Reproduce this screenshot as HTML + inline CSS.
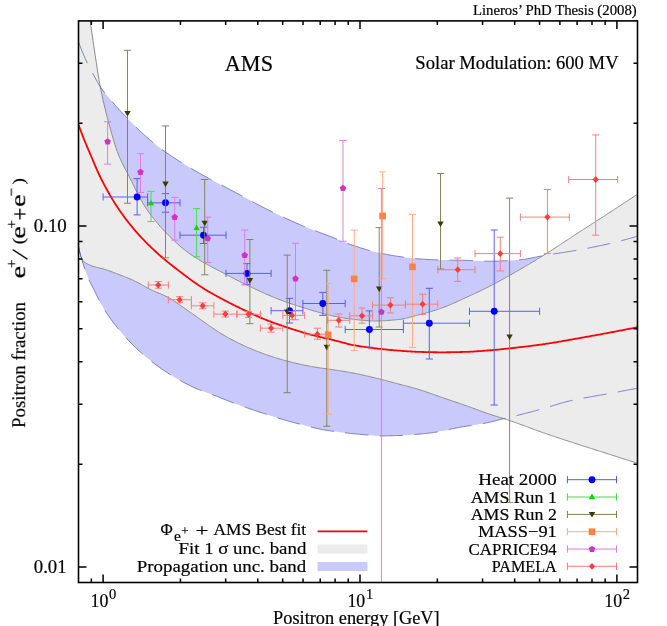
<!DOCTYPE html>
<html><head><meta charset="utf-8"><title>AMS positron fraction</title>
<style>
html,body{margin:0;padding:0;background:#fff;}
body{width:667px;height:626px;overflow:hidden;position:relative;font-family:"Liberation Serif",serif;}
</style></head><body>
<svg width="667" height="626" viewBox="0 0 667 626" style="position:absolute;left:0;top:0">
<defs><clipPath id="pc"><rect x="78.5" y="20.9" width="559.0" height="561.6"/></clipPath></defs>
<rect width="667" height="626" fill="#fff"/>
<g clip-path="url(#pc)">
<path d="M78.50 41.80 L79.62 44.83 L80.74 47.76 L81.86 50.60 L82.98 53.35 L84.10 56.00 L85.22 58.55 L86.34 61.02 L87.46 63.38 L88.58 65.61 L89.70 67.74 L90.82 69.81 L91.94 71.86 L93.06 73.93 L94.18 76.04 L95.30 78.14 L96.42 80.22 L97.54 82.24 L98.66 84.16 L99.78 85.97 L100.90 87.64 L102.03 89.23 L103.15 90.75 L104.27 92.22 L105.39 93.64 L106.51 95.01 L107.63 96.36 L108.75 97.69 L109.87 99.00 L110.99 100.31 L112.11 101.63 L113.23 102.94 L114.35 104.23 L115.47 105.51 L116.59 106.78 L117.71 108.03 L118.83 109.26 L119.95 110.49 L121.07 111.70 L122.19 112.90 L123.31 114.09 L124.43 115.27 L125.55 116.44 L126.67 117.60 L127.79 118.75 L128.91 119.91 L130.03 121.05 L131.15 122.19 L132.27 123.33 L133.39 124.46 L134.51 125.58 L135.63 126.69 L136.75 127.80 L137.87 128.89 L138.99 129.97 L140.11 131.05 L141.23 132.11 L142.35 133.16 L143.47 134.20 L144.59 135.22 L145.71 136.23 L146.83 137.22 L147.95 138.20 L149.08 139.17 L150.20 140.12 L151.32 141.06 L152.44 141.99 L153.56 142.91 L154.68 143.82 L155.80 144.71 L156.92 145.60 L158.04 146.47 L159.16 147.34 L160.28 148.19 L161.40 149.03 L162.52 149.86 L163.64 150.67 L164.76 151.48 L165.88 152.27 L167.00 153.06 L168.12 153.83 L169.24 154.60 L170.36 155.36 L171.48 156.11 L172.60 156.86 L173.72 157.59 L174.84 158.33 L175.96 159.05 L177.08 159.77 L178.20 160.48 L179.32 161.19 L180.44 161.89 L181.56 162.59 L182.68 163.28 L183.80 163.96 L184.92 164.65 L186.04 165.32 L187.16 166.00 L188.28 166.67 L189.40 167.33 L190.52 167.99 L191.64 168.65 L192.76 169.31 L193.88 169.96 L195.01 170.62 L196.13 171.27 L197.25 171.91 L198.37 172.56 L199.49 173.20 L200.61 173.85 L201.73 174.48 L202.85 175.12 L203.97 175.74 L205.09 176.37 L206.21 176.98 L207.33 177.60 L208.45 178.20 L209.57 178.81 L210.69 179.41 L211.81 180.01 L212.93 180.61 L214.05 181.20 L215.17 181.79 L216.29 182.38 L217.41 182.97 L218.53 183.55 L219.65 184.14 L220.77 184.72 L221.89 185.31 L223.01 185.89 L224.13 186.47 L225.25 187.06 L226.37 187.64 L227.49 188.23 L228.61 188.82 L229.73 189.40 L230.85 189.99 L231.97 190.59 L233.09 191.18 L234.21 191.78 L235.33 192.38 L236.45 192.98 L237.57 193.59 L238.69 194.19 L239.81 194.80 L240.93 195.41 L242.06 196.02 L243.18 196.63 L244.30 197.24 L245.42 197.85 L246.54 198.46 L247.66 199.07 L248.78 199.68 L249.90 200.29 L251.02 200.89 L252.14 201.50 L253.26 202.10 L254.38 202.70 L255.50 203.30 L256.62 203.90 L257.74 204.49 L258.86 205.08 L259.98 205.67 L261.10 206.25 L262.22 206.83 L263.34 207.40 L264.46 207.97 L265.58 208.54 L266.70 209.10 L267.82 209.66 L268.94 210.21 L270.06 210.77 L271.18 211.32 L272.30 211.87 L273.42 212.41 L274.54 212.96 L275.66 213.50 L276.78 214.04 L277.90 214.58 L279.02 215.12 L280.14 215.65 L281.26 216.19 L282.38 216.72 L283.50 217.24 L284.62 217.77 L285.74 218.29 L286.86 218.81 L287.98 219.32 L289.11 219.83 L290.23 220.34 L291.35 220.85 L292.47 221.35 L293.59 221.85 L294.71 222.35 L295.83 222.84 L296.95 223.33 L298.07 223.82 L299.19 224.30 L300.31 224.78 L301.43 225.25 L302.55 225.72 L303.67 226.18 L304.79 226.64 L305.91 227.10 L307.03 227.55 L308.15 228.00 L309.27 228.44 L310.39 228.89 L311.51 229.33 L312.63 229.76 L313.75 230.20 L314.87 230.63 L315.99 231.06 L317.11 231.48 L318.23 231.91 L319.35 232.34 L320.47 232.76 L321.59 233.18 L322.71 233.61 L323.83 234.03 L324.95 234.46 L326.07 234.88 L327.19 235.30 L328.31 235.73 L329.43 236.16 L330.55 236.58 L331.67 237.01 L332.79 237.44 L333.91 237.88 L335.04 238.31 L336.16 238.75 L337.28 239.20 L338.40 239.65 L339.52 240.11 L340.64 240.56 L341.76 241.02 L342.88 241.47 L344.00 241.93 L345.12 242.37 L346.24 242.82 L347.36 243.25 L348.48 243.68 L349.60 244.10 L350.72 244.51 L351.84 244.91 L352.96 245.29 L354.08 245.67 L355.20 246.05 L356.32 246.42 L357.44 246.79 L358.56 247.16 L359.68 247.52 L360.80 247.88 L361.92 248.24 L363.04 248.58 L364.16 248.93 L365.28 249.26 L366.40 249.59 L367.52 249.92 L368.64 250.23 L369.76 250.54 L370.88 250.84 L372.00 251.13 L373.12 251.42 L374.24 251.69 L375.36 251.96 L376.48 252.22 L377.60 252.48 L378.72 252.73 L379.84 252.98 L380.96 253.22 L382.09 253.46 L383.21 253.70 L384.33 253.93 L385.45 254.16 L386.57 254.38 L387.69 254.59 L388.81 254.81 L389.93 255.01 L391.05 255.21 L392.17 255.41 L393.29 255.60 L394.41 255.78 L395.53 255.96 L396.65 256.13 L397.77 256.30 L398.89 256.47 L400.01 256.63 L401.13 256.79 L402.25 256.95 L403.37 257.11 L404.49 257.27 L405.61 257.42 L406.73 257.57 L407.85 257.72 L408.97 257.86 L410.09 257.99 L411.21 258.12 L412.33 258.25 L413.45 258.37 L414.57 258.48 L415.69 258.59 L416.81 258.69 L417.93 258.78 L419.05 258.87 L420.17 258.95 L421.29 259.02 L422.41 259.10 L423.53 259.17 L424.65 259.24 L425.77 259.31 L426.89 259.38 L428.02 259.45 L429.14 259.51 L430.26 259.57 L431.38 259.62 L432.50 259.68 L433.62 259.73 L434.74 259.78 L435.86 259.82 L436.98 259.86 L438.10 259.90 L439.22 259.94 L440.34 259.97 L441.46 259.99 L442.58 260.02 L443.70 260.04 L444.82 260.05 L445.94 260.07 L447.06 260.09 L448.18 260.10 L449.30 260.11 L450.42 260.12 L451.54 260.14 L452.66 260.15 L453.78 260.16 L454.90 260.17 L456.02 260.18 L457.14 260.19 L458.26 260.20 L459.38 260.21 L460.50 260.23 L461.62 260.24 L462.74 260.26 L463.86 260.28 L464.98 260.30 L466.10 260.32 L467.22 260.36 L468.34 260.40 L469.46 260.44 L470.58 260.49 L471.70 260.54 L472.82 260.60 L473.94 260.65 L475.07 260.71 L476.19 260.77 L477.31 260.83 L478.43 260.89 L479.55 260.94 L480.67 260.99 L481.79 261.04 L482.91 261.08 L484.03 261.12 L485.15 261.15 L486.27 261.18 L487.39 261.19 L488.51 261.20 L489.63 261.20 L490.75 261.19 L491.87 261.18 L492.99 261.17 L494.11 261.15 L495.23 261.12 L496.35 261.09 L497.47 261.06 L498.59 261.02 L499.71 260.98 L500.83 260.94 L501.95 260.89 L503.07 260.84 L504.19 260.79 L505.31 260.74 L506.43 260.68 L507.55 260.62 L508.67 260.55 L509.79 260.49 L510.91 260.42 L512.03 260.35 L513.15 260.28 L514.27 260.21 L515.39 260.14 L516.51 260.07 L517.63 259.99 L518.75 259.90 L519.87 259.80 L520.99 259.68 L522.12 259.55 L523.24 259.40 L524.36 259.24 L525.48 259.06 L526.60 258.88 L527.72 258.68 L528.84 258.48 L529.96 258.27 L531.08 258.06 L532.20 257.84 L533.32 257.61 L534.44 257.39 L535.56 257.16 L536.68 256.93 L537.80 256.70 L538.92 256.47 L540.04 256.25 L541.16 256.03 L542.28 255.81 L543.40 255.60 L544.52 255.40 L545.64 255.21 L546.76 255.02 L547.88 254.84 L549.00 254.67 L550.12 254.49 L551.24 254.31 L552.36 254.14 L553.48 253.97 L554.60 253.80 L555.72 253.63 L556.84 253.46 L557.96 253.29 L559.08 253.12 L560.20 252.95 L561.32 252.78 L562.44 252.61 L563.56 252.44 L564.68 252.27 L565.80 252.09 L566.92 251.91 L568.05 251.73 L569.17 251.55 L570.29 251.37 L571.41 251.18 L572.53 250.99 L573.65 250.79 L574.77 250.59 L575.89 250.40 L577.01 250.20 L578.13 249.99 L579.25 249.79 L580.37 249.58 L581.49 249.38 L582.61 249.17 L583.73 248.96 L584.85 248.75 L585.97 248.53 L587.09 248.32 L588.21 248.10 L589.33 247.88 L590.45 247.66 L591.57 247.44 L592.69 247.21 L593.81 246.99 L594.93 246.76 L596.05 246.53 L597.17 246.30 L598.29 246.06 L599.41 245.82 L600.53 245.59 L601.65 245.35 L602.77 245.10 L603.89 244.86 L605.01 244.61 L606.13 244.36 L607.25 244.11 L608.37 243.86 L609.49 243.60 L610.61 243.34 L611.73 243.08 L612.85 242.81 L613.97 242.54 L615.10 242.27 L616.22 241.99 L617.34 241.72 L618.46 241.43 L619.58 241.15 L620.70 240.86 L621.82 240.56 L622.94 240.27 L624.06 239.97 L625.18 239.67 L626.30 239.37 L627.42 239.06 L628.54 238.75 L629.66 238.44 L630.78 238.13 L631.90 237.81 L633.02 237.49 L634.14 237.17 L635.26 236.85 L636.38 236.53 L637.50 236.20 L637.50 388.20 L636.38 388.41 L635.26 388.63 L634.14 388.84 L633.02 389.05 L631.90 389.27 L630.78 389.48 L629.66 389.69 L628.54 389.91 L627.42 390.12 L626.30 390.33 L625.18 390.54 L624.06 390.76 L622.94 390.97 L621.82 391.18 L620.70 391.39 L619.58 391.60 L618.46 391.82 L617.34 392.03 L616.22 392.24 L615.10 392.45 L613.97 392.66 L612.85 392.87 L611.73 393.08 L610.61 393.29 L609.49 393.50 L608.37 393.71 L607.25 393.92 L606.13 394.12 L605.01 394.32 L603.89 394.52 L602.77 394.72 L601.65 394.91 L600.53 395.11 L599.41 395.30 L598.29 395.50 L597.17 395.69 L596.05 395.88 L594.93 396.07 L593.81 396.27 L592.69 396.46 L591.57 396.65 L590.45 396.85 L589.33 397.04 L588.21 397.24 L587.09 397.44 L585.97 397.64 L584.85 397.85 L583.73 398.05 L582.61 398.26 L581.49 398.47 L580.37 398.69 L579.25 398.90 L578.13 399.12 L577.01 399.35 L575.89 399.58 L574.77 399.81 L573.65 400.05 L572.53 400.29 L571.41 400.54 L570.29 400.79 L569.17 401.06 L568.05 401.33 L566.92 401.61 L565.80 401.90 L564.68 402.20 L563.56 402.50 L562.44 402.82 L561.32 403.13 L560.20 403.46 L559.08 403.78 L557.96 404.11 L556.84 404.45 L555.72 404.79 L554.60 405.13 L553.48 405.47 L552.36 405.81 L551.24 406.15 L550.12 406.49 L549.00 406.83 L547.88 407.17 L546.76 407.50 L545.64 407.83 L544.52 408.16 L543.40 408.49 L542.28 408.81 L541.16 409.12 L540.04 409.43 L538.92 409.73 L537.80 410.04 L536.68 410.34 L535.56 410.65 L534.44 410.95 L533.32 411.26 L532.20 411.56 L531.08 411.86 L529.96 412.16 L528.84 412.46 L527.72 412.75 L526.60 413.05 L525.48 413.34 L524.36 413.64 L523.24 413.93 L522.12 414.21 L520.99 414.50 L519.87 414.78 L518.75 415.07 L517.63 415.34 L516.51 415.62 L515.39 415.89 L514.27 416.15 L513.15 416.41 L512.03 416.67 L510.91 416.93 L509.79 417.18 L508.67 417.44 L507.55 417.70 L506.43 417.96 L505.31 418.22 L504.19 418.50 L503.07 418.78 L501.95 419.07 L500.83 419.37 L499.71 419.67 L498.59 419.97 L497.47 420.27 L496.35 420.57 L495.23 420.86 L494.11 421.15 L492.99 421.44 L491.87 421.71 L490.75 421.97 L489.63 422.22 L488.51 422.46 L487.39 422.69 L486.27 422.91 L485.15 423.12 L484.03 423.33 L482.91 423.53 L481.79 423.73 L480.67 423.92 L479.55 424.11 L478.43 424.30 L477.31 424.48 L476.19 424.67 L475.07 424.84 L473.94 425.02 L472.82 425.20 L471.70 425.38 L470.58 425.55 L469.46 425.73 L468.34 425.90 L467.22 426.08 L466.10 426.26 L464.98 426.45 L463.86 426.63 L462.74 426.82 L461.62 427.01 L460.50 427.21 L459.38 427.41 L458.26 427.62 L457.14 427.84 L456.02 428.06 L454.90 428.29 L453.78 428.52 L452.66 428.75 L451.54 428.99 L450.42 429.23 L449.30 429.47 L448.18 429.71 L447.06 429.95 L445.94 430.19 L444.82 430.43 L443.70 430.66 L442.58 430.89 L441.46 431.12 L440.34 431.34 L439.22 431.56 L438.10 431.76 L436.98 431.97 L435.86 432.16 L434.74 432.34 L433.62 432.52 L432.50 432.68 L431.38 432.83 L430.26 432.97 L429.14 433.10 L428.02 433.23 L426.89 433.35 L425.77 433.48 L424.65 433.60 L423.53 433.72 L422.41 433.84 L421.29 433.96 L420.17 434.07 L419.05 434.18 L417.93 434.29 L416.81 434.40 L415.69 434.50 L414.57 434.60 L413.45 434.69 L412.33 434.78 L411.21 434.87 L410.09 434.95 L408.97 435.03 L407.85 435.11 L406.73 435.18 L405.61 435.24 L404.49 435.31 L403.37 435.36 L402.25 435.41 L401.13 435.46 L400.01 435.50 L398.89 435.54 L397.77 435.57 L396.65 435.61 L395.53 435.65 L394.41 435.68 L393.29 435.71 L392.17 435.75 L391.05 435.78 L389.93 435.80 L388.81 435.83 L387.69 435.85 L386.57 435.87 L385.45 435.88 L384.33 435.89 L383.21 435.90 L382.09 435.90 L380.96 435.89 L379.84 435.87 L378.72 435.84 L377.60 435.80 L376.48 435.74 L375.36 435.68 L374.24 435.61 L373.12 435.52 L372.00 435.44 L370.88 435.34 L369.76 435.25 L368.64 435.15 L367.52 435.04 L366.40 434.93 L365.28 434.83 L364.16 434.72 L363.04 434.61 L361.92 434.50 L360.80 434.40 L359.68 434.30 L358.56 434.20 L357.44 434.10 L356.32 433.99 L355.20 433.89 L354.08 433.78 L352.96 433.67 L351.84 433.56 L350.72 433.44 L349.60 433.33 L348.48 433.21 L347.36 433.09 L346.24 432.96 L345.12 432.83 L344.00 432.70 L342.88 432.57 L341.76 432.44 L340.64 432.30 L339.52 432.16 L338.40 432.02 L337.28 431.87 L336.16 431.72 L335.04 431.57 L333.91 431.41 L332.79 431.25 L331.67 431.09 L330.55 430.92 L329.43 430.75 L328.31 430.58 L327.19 430.40 L326.07 430.22 L324.95 430.02 L323.83 429.82 L322.71 429.61 L321.59 429.39 L320.47 429.17 L319.35 428.93 L318.23 428.70 L317.11 428.45 L315.99 428.20 L314.87 427.94 L313.75 427.68 L312.63 427.42 L311.51 427.15 L310.39 426.87 L309.27 426.59 L308.15 426.31 L307.03 426.03 L305.91 425.74 L304.79 425.45 L303.67 425.16 L302.55 424.87 L301.43 424.58 L300.31 424.28 L299.19 423.99 L298.07 423.69 L296.95 423.40 L295.83 423.11 L294.71 422.81 L293.59 422.51 L292.47 422.21 L291.35 421.90 L290.23 421.59 L289.11 421.27 L287.98 420.96 L286.86 420.63 L285.74 420.31 L284.62 419.98 L283.50 419.65 L282.38 419.31 L281.26 418.97 L280.14 418.63 L279.02 418.29 L277.90 417.95 L276.78 417.60 L275.66 417.25 L274.54 416.90 L273.42 416.55 L272.30 416.19 L271.18 415.84 L270.06 415.48 L268.94 415.12 L267.82 414.76 L266.70 414.40 L265.58 414.04 L264.46 413.68 L263.34 413.32 L262.22 412.96 L261.10 412.59 L259.98 412.22 L258.86 411.85 L257.74 411.48 L256.62 411.11 L255.50 410.74 L254.38 410.36 L253.26 409.98 L252.14 409.60 L251.02 409.22 L249.90 408.83 L248.78 408.45 L247.66 408.06 L246.54 407.67 L245.42 407.27 L244.30 406.88 L243.18 406.48 L242.06 406.08 L240.93 405.68 L239.81 405.28 L238.69 404.87 L237.57 404.46 L236.45 404.05 L235.33 403.64 L234.21 403.23 L233.09 402.81 L231.97 402.39 L230.85 401.96 L229.73 401.53 L228.61 401.09 L227.49 400.64 L226.37 400.19 L225.25 399.74 L224.13 399.28 L223.01 398.82 L221.89 398.36 L220.77 397.91 L219.65 397.46 L218.53 397.01 L217.41 396.57 L216.29 396.13 L215.17 395.71 L214.05 395.28 L212.93 394.87 L211.81 394.45 L210.69 394.04 L209.57 393.63 L208.45 393.22 L207.33 392.81 L206.21 392.40 L205.09 391.98 L203.97 391.56 L202.85 391.14 L201.73 390.71 L200.61 390.28 L199.49 389.84 L198.37 389.38 L197.25 388.92 L196.13 388.45 L195.01 387.97 L193.88 387.47 L192.76 386.96 L191.64 386.44 L190.52 385.91 L189.40 385.37 L188.28 384.81 L187.16 384.25 L186.04 383.67 L184.92 383.08 L183.80 382.49 L182.68 381.88 L181.56 381.27 L180.44 380.64 L179.32 380.01 L178.20 379.37 L177.08 378.72 L175.96 378.07 L174.84 377.41 L173.72 376.74 L172.60 376.06 L171.48 375.38 L170.36 374.68 L169.24 373.98 L168.12 373.26 L167.00 372.54 L165.88 371.80 L164.76 371.05 L163.64 370.29 L162.52 369.53 L161.40 368.75 L160.28 367.96 L159.16 367.16 L158.04 366.35 L156.92 365.52 L155.80 364.69 L154.68 363.85 L153.56 362.99 L152.44 362.13 L151.32 361.26 L150.20 360.37 L149.08 359.47 L147.95 358.56 L146.83 357.63 L145.71 356.69 L144.59 355.74 L143.47 354.77 L142.35 353.79 L141.23 352.80 L140.11 351.79 L138.99 350.77 L137.87 349.73 L136.75 348.67 L135.63 347.61 L134.51 346.52 L133.39 345.42 L132.27 344.30 L131.15 343.17 L130.03 342.02 L128.91 340.85 L127.79 339.66 L126.67 338.46 L125.55 337.24 L124.43 336.00 L123.31 334.74 L122.19 333.46 L121.07 332.16 L119.95 330.83 L118.83 329.49 L117.71 328.12 L116.59 326.72 L115.47 325.30 L114.35 323.86 L113.23 322.39 L112.11 320.89 L110.99 319.37 L109.87 317.81 L108.75 316.23 L107.63 314.58 L106.51 312.88 L105.39 311.12 L104.27 309.31 L103.15 307.44 L102.03 305.52 L100.90 303.55 L99.78 301.52 L98.66 299.40 L97.54 297.10 L96.42 294.72 L95.30 292.35 L94.18 290.07 L93.06 287.95 L91.94 285.87 L90.82 283.71 L89.70 281.35 L88.58 278.80 L87.46 276.08 L86.34 273.20 L85.22 270.13 L84.10 266.86 L82.98 263.39 L81.86 259.71 L80.74 255.83 L79.62 251.76 L78.50 247.50 Z" fill="#c9c9fc"/>
<path d="M76.50 0.00 L88.60 10.00 L89.70 17.80 L90.80 25.47 L91.90 33.09 L93.00 40.64 L94.10 48.05 L95.20 55.31 L96.30 62.62 L97.40 69.90 L98.50 76.90 L99.60 83.38 L100.70 89.14 L101.80 94.48 L102.90 99.52 L104.00 104.30 L105.10 108.86 L106.20 113.24 L107.30 117.48 L108.40 121.63 L109.50 125.72 L110.60 129.76 L111.70 133.72 L112.80 137.57 L113.90 141.28 L115.00 144.83 L116.10 148.18 L117.20 151.32 L118.30 154.21 L119.40 156.88 L120.50 159.37 L121.60 161.73 L122.70 163.97 L123.80 166.14 L124.90 168.25 L126.00 170.34 L127.10 172.45 L128.20 174.60 L129.30 176.79 L130.40 179.01 L131.50 181.24 L132.60 183.47 L133.70 185.70 L134.80 187.92 L135.90 190.13 L137.00 192.31 L138.10 194.45 L139.20 196.56 L140.30 198.61 L141.40 200.61 L142.50 202.55 L143.60 204.42 L144.70 206.20 L145.80 207.90 L146.90 209.52 L148.00 211.11 L149.10 212.65 L150.20 214.15 L151.30 215.62 L152.40 217.05 L153.50 218.45 L154.60 219.81 L155.70 221.15 L156.80 222.46 L157.90 223.75 L159.00 225.01 L160.10 226.25 L161.20 227.47 L162.30 228.67 L163.40 229.85 L164.50 231.02 L165.60 232.18 L166.70 233.32 L167.80 234.45 L168.90 235.57 L170.00 236.68 L171.10 237.77 L172.20 238.85 L173.30 239.92 L174.40 240.97 L175.50 242.01 L176.60 243.03 L177.70 244.04 L178.80 245.03 L179.90 246.00 L181.00 246.95 L182.10 247.88 L183.20 248.79 L184.30 249.69 L185.40 250.56 L186.50 251.41 L187.60 252.24 L188.70 253.04 L189.80 253.83 L190.90 254.60 L192.00 255.34 L193.10 256.07 L194.20 256.79 L195.30 257.49 L196.40 258.17 L197.50 258.85 L198.60 259.51 L199.70 260.16 L200.80 260.81 L201.90 261.44 L203.00 262.07 L204.10 262.70 L205.20 263.32 L206.30 263.93 L207.40 264.55 L208.50 265.16 L209.60 265.78 L210.70 266.39 L211.80 266.99 L212.90 267.58 L214.00 268.17 L215.10 268.74 L216.20 269.31 L217.30 269.88 L218.40 270.44 L219.50 271.00 L220.60 271.57 L221.70 272.14 L222.80 272.71 L223.90 273.28 L225.00 273.86 L226.10 274.44 L227.20 275.02 L228.30 275.60 L229.40 276.18 L230.50 276.75 L231.60 277.33 L232.70 277.91 L233.80 278.49 L234.90 279.06 L236.00 279.63 L237.10 280.20 L238.20 280.76 L239.30 281.32 L240.40 281.88 L241.50 282.43 L242.60 282.98 L243.70 283.51 L244.80 284.05 L245.90 284.58 L247.00 285.11 L248.10 285.64 L249.20 286.17 L250.30 286.70 L251.40 287.22 L252.50 287.75 L253.60 288.27 L254.70 288.80 L255.80 289.32 L256.90 289.83 L258.00 290.35 L259.10 290.86 L260.20 291.37 L261.30 291.87 L262.40 292.38 L263.50 292.88 L264.60 293.37 L265.70 293.86 L266.80 294.35 L267.90 294.83 L269.00 295.30 L270.10 295.77 L271.20 296.24 L272.30 296.70 L273.40 297.15 L274.50 297.60 L275.60 298.04 L276.70 298.48 L277.80 298.91 L278.90 299.33 L280.00 299.75 L281.10 300.16 L282.20 300.57 L283.30 300.98 L284.40 301.38 L285.50 301.78 L286.60 302.17 L287.70 302.56 L288.80 302.95 L289.90 303.33 L291.00 303.71 L292.10 304.09 L293.20 304.46 L294.30 304.83 L295.40 305.20 L296.50 305.56 L297.60 305.92 L298.70 306.28 L299.80 306.63 L300.90 306.98 L302.00 307.33 L303.10 307.67 L304.20 308.02 L305.30 308.35 L306.40 308.69 L307.50 309.02 L308.60 309.35 L309.70 309.68 L310.80 310.01 L311.90 310.33 L313.00 310.65 L314.10 310.97 L315.20 311.29 L316.30 311.62 L317.40 311.93 L318.50 312.25 L319.60 312.57 L320.70 312.88 L321.80 313.18 L322.90 313.49 L324.00 313.79 L325.10 314.08 L326.20 314.37 L327.30 314.65 L328.40 314.93 L329.50 315.19 L330.60 315.45 L331.70 315.70 L332.80 315.95 L333.90 316.18 L335.00 316.40 L336.10 316.62 L337.20 316.83 L338.30 317.04 L339.40 317.24 L340.50 317.44 L341.60 317.64 L342.70 317.82 L343.80 318.01 L344.90 318.19 L346.00 318.36 L347.10 318.52 L348.20 318.68 L349.30 318.83 L350.40 318.97 L351.50 319.10 L352.60 319.22 L353.70 319.34 L354.80 319.47 L355.90 319.59 L357.00 319.71 L358.10 319.84 L359.20 319.96 L360.30 320.08 L361.40 320.19 L362.50 320.30 L363.60 320.41 L364.70 320.51 L365.80 320.60 L366.90 320.69 L368.00 320.76 L369.10 320.83 L370.20 320.89 L371.30 320.94 L372.40 320.97 L373.50 320.99 L374.60 321.00 L375.70 321.00 L376.80 320.98 L377.90 320.96 L379.00 320.94 L380.10 320.90 L381.20 320.86 L382.30 320.81 L383.40 320.75 L384.50 320.69 L385.60 320.63 L386.70 320.56 L387.80 320.48 L388.90 320.40 L390.00 320.31 L391.10 320.23 L392.20 320.13 L393.30 320.04 L394.40 319.94 L395.50 319.85 L396.60 319.75 L397.70 319.64 L398.80 319.51 L399.90 319.37 L401.00 319.20 L402.10 319.01 L403.20 318.80 L404.30 318.58 L405.40 318.34 L406.50 318.09 L407.60 317.83 L408.70 317.56 L409.80 317.28 L410.90 316.99 L412.00 316.70 L413.10 316.41 L414.20 316.11 L415.30 315.81 L416.40 315.52 L417.50 315.22 L418.60 314.93 L419.70 314.65 L420.80 314.36 L421.90 314.08 L423.00 313.78 L424.10 313.49 L425.20 313.19 L426.30 312.88 L427.40 312.57 L428.50 312.25 L429.60 311.93 L430.70 311.61 L431.80 311.28 L432.90 310.94 L434.00 310.60 L435.10 310.25 L436.20 309.90 L437.30 309.54 L438.40 309.17 L439.50 308.80 L440.60 308.42 L441.70 308.04 L442.80 307.64 L443.90 307.23 L445.00 306.81 L446.10 306.38 L447.20 305.94 L448.30 305.49 L449.40 305.02 L450.50 304.56 L451.60 304.08 L452.70 303.60 L453.80 303.11 L454.90 302.61 L456.00 302.11 L457.10 301.61 L458.20 301.11 L459.30 300.61 L460.40 300.10 L461.50 299.60 L462.60 299.09 L463.70 298.59 L464.80 298.09 L465.90 297.59 L467.00 297.09 L468.10 296.59 L469.20 296.09 L470.30 295.59 L471.40 295.08 L472.50 294.57 L473.60 294.06 L474.70 293.55 L475.80 293.04 L476.90 292.52 L478.00 292.00 L479.10 291.47 L480.20 290.95 L481.30 290.42 L482.40 289.88 L483.50 289.35 L484.60 288.80 L485.70 288.26 L486.80 287.71 L487.90 287.16 L489.00 286.60 L490.10 286.04 L491.20 285.47 L492.30 284.90 L493.40 284.32 L494.50 283.74 L495.60 283.15 L496.70 282.56 L497.80 281.97 L498.90 281.37 L500.00 280.77 L501.10 280.17 L502.20 279.56 L503.30 278.95 L504.40 278.34 L505.50 277.73 L506.60 277.11 L507.70 276.49 L508.80 275.87 L509.90 275.24 L511.00 274.62 L512.10 273.99 L513.20 273.36 L514.30 272.74 L515.40 272.11 L516.50 271.47 L517.60 270.84 L518.70 270.21 L519.80 269.57 L520.90 268.94 L522.00 268.30 L523.10 267.65 L524.20 267.01 L525.30 266.36 L526.40 265.71 L527.50 265.06 L528.60 264.41 L529.70 263.75 L530.80 263.09 L531.90 262.43 L533.00 261.77 L534.10 261.11 L535.20 260.44 L536.30 259.77 L537.40 259.10 L538.50 258.43 L539.60 257.75 L540.70 257.08 L541.80 256.40 L542.90 255.72 L544.00 255.03 L545.10 254.35 L546.20 253.66 L547.30 252.97 L548.40 252.28 L549.50 251.58 L550.60 250.88 L551.70 250.17 L552.80 249.46 L553.90 248.75 L555.00 248.04 L556.10 247.32 L557.20 246.60 L558.30 245.88 L559.40 245.16 L560.50 244.43 L561.60 243.71 L562.70 242.98 L563.80 242.26 L564.90 241.53 L566.00 240.80 L567.10 240.08 L568.20 239.35 L569.30 238.63 L570.40 237.90 L571.50 237.18 L572.60 236.46 L573.70 235.75 L574.80 235.03 L575.90 234.32 L577.00 233.60 L578.10 232.89 L579.20 232.18 L580.30 231.47 L581.40 230.76 L582.50 230.05 L583.60 229.34 L584.70 228.63 L585.80 227.93 L586.90 227.22 L588.00 226.51 L589.10 225.80 L590.20 225.09 L591.30 224.38 L592.40 223.67 L593.50 222.97 L594.60 222.26 L595.70 221.55 L596.80 220.84 L597.90 220.13 L599.00 219.41 L600.10 218.70 L601.20 217.99 L602.30 217.28 L603.40 216.56 L604.50 215.84 L605.60 215.13 L606.70 214.41 L607.80 213.70 L608.90 212.98 L610.00 212.26 L611.10 211.54 L612.20 210.82 L613.30 210.11 L614.40 209.39 L615.50 208.67 L616.60 207.95 L617.70 207.23 L618.80 206.51 L619.90 205.79 L621.00 205.06 L622.10 204.34 L623.20 203.62 L624.30 202.90 L625.40 202.18 L626.50 201.45 L627.60 200.73 L628.70 200.01 L629.80 199.28 L630.90 198.56 L632.00 197.83 L633.10 197.11 L634.20 196.38 L635.30 195.65 L636.40 194.93 L637.50 194.20 L637.50 463.30 L636.38 462.94 L635.26 462.58 L634.14 462.22 L633.02 461.86 L631.90 461.50 L630.78 461.14 L629.66 460.78 L628.54 460.42 L627.42 460.07 L626.30 459.71 L625.18 459.35 L624.06 458.99 L622.94 458.63 L621.82 458.27 L620.70 457.91 L619.58 457.55 L618.46 457.19 L617.34 456.83 L616.22 456.47 L615.10 456.12 L613.97 455.76 L612.85 455.40 L611.73 455.04 L610.61 454.68 L609.49 454.32 L608.37 453.96 L607.25 453.61 L606.13 453.25 L605.01 452.89 L603.89 452.53 L602.77 452.17 L601.65 451.81 L600.53 451.46 L599.41 451.10 L598.29 450.74 L597.17 450.39 L596.05 450.03 L594.93 449.68 L593.81 449.32 L592.69 448.96 L591.57 448.61 L590.45 448.25 L589.33 447.90 L588.21 447.54 L587.09 447.18 L585.97 446.83 L584.85 446.47 L583.73 446.11 L582.61 445.75 L581.49 445.39 L580.37 445.03 L579.25 444.67 L578.13 444.31 L577.01 443.95 L575.89 443.59 L574.77 443.22 L573.65 442.86 L572.53 442.50 L571.41 442.13 L570.29 441.77 L569.17 441.40 L568.05 441.04 L566.92 440.67 L565.80 440.31 L564.68 439.94 L563.56 439.58 L562.44 439.21 L561.32 438.84 L560.20 438.47 L559.08 438.10 L557.96 437.73 L556.84 437.36 L555.72 436.99 L554.60 436.62 L553.48 436.24 L552.36 435.86 L551.24 435.49 L550.12 435.11 L549.00 434.73 L547.88 434.34 L546.76 433.96 L545.64 433.57 L544.52 433.18 L543.40 432.79 L542.28 432.39 L541.16 431.99 L540.04 431.59 L538.92 431.18 L537.80 430.78 L536.68 430.37 L535.56 429.96 L534.44 429.54 L533.32 429.13 L532.20 428.72 L531.08 428.30 L529.96 427.89 L528.84 427.47 L527.72 427.05 L526.60 426.64 L525.48 426.22 L524.36 425.81 L523.24 425.39 L522.12 424.98 L520.99 424.57 L519.87 424.16 L518.75 423.76 L517.63 423.35 L516.51 422.95 L515.39 422.55 L514.27 422.15 L513.15 421.76 L512.03 421.37 L510.91 420.98 L509.79 420.60 L508.67 420.22 L507.55 419.85 L506.43 419.49 L505.31 419.12 L504.19 418.77 L503.07 418.42 L501.95 418.06 L500.83 417.72 L499.71 417.37 L498.59 417.02 L497.47 416.68 L496.35 416.33 L495.23 415.98 L494.11 415.63 L492.99 415.27 L491.87 414.91 L490.75 414.55 L489.63 414.18 L488.51 413.80 L487.39 413.42 L486.27 413.03 L485.15 412.64 L484.03 412.24 L482.91 411.84 L481.79 411.43 L480.67 411.02 L479.55 410.61 L478.43 410.20 L477.31 409.79 L476.19 409.37 L475.07 408.96 L473.94 408.54 L472.82 408.13 L471.70 407.72 L470.58 407.31 L469.46 406.90 L468.34 406.49 L467.22 406.09 L466.10 405.69 L464.98 405.29 L463.86 404.90 L462.74 404.51 L461.62 404.13 L460.50 403.74 L459.38 403.36 L458.26 402.97 L457.14 402.59 L456.02 402.21 L454.90 401.83 L453.78 401.46 L452.66 401.08 L451.54 400.70 L450.42 400.32 L449.30 399.95 L448.18 399.57 L447.06 399.19 L445.94 398.81 L444.82 398.43 L443.70 398.05 L442.58 397.67 L441.46 397.28 L440.34 396.89 L439.22 396.50 L438.10 396.11 L436.98 395.71 L435.86 395.31 L434.74 394.91 L433.62 394.50 L432.50 394.10 L431.38 393.70 L430.26 393.30 L429.14 392.91 L428.02 392.51 L426.89 392.12 L425.77 391.74 L424.65 391.36 L423.53 390.98 L422.41 390.62 L421.29 390.26 L420.17 389.91 L419.05 389.56 L417.93 389.23 L416.81 388.90 L415.69 388.57 L414.57 388.26 L413.45 387.94 L412.33 387.63 L411.21 387.32 L410.09 387.02 L408.97 386.72 L407.85 386.42 L406.73 386.13 L405.61 385.83 L404.49 385.54 L403.37 385.24 L402.25 384.95 L401.13 384.66 L400.01 384.37 L398.89 384.07 L397.77 383.78 L396.65 383.48 L395.53 383.18 L394.41 382.88 L393.29 382.58 L392.17 382.29 L391.05 381.99 L389.93 381.69 L388.81 381.39 L387.69 381.09 L386.57 380.80 L385.45 380.50 L384.33 380.21 L383.21 379.92 L382.09 379.63 L380.96 379.34 L379.84 379.06 L378.72 378.78 L377.60 378.50 L376.48 378.23 L375.36 377.96 L374.24 377.69 L373.12 377.43 L372.00 377.16 L370.88 376.90 L369.76 376.63 L368.64 376.37 L367.52 376.11 L366.40 375.86 L365.28 375.60 L364.16 375.35 L363.04 375.10 L361.92 374.85 L360.80 374.61 L359.68 374.37 L358.56 374.13 L357.44 373.90 L356.32 373.67 L355.20 373.44 L354.08 373.22 L352.96 373.01 L351.84 372.79 L350.72 372.59 L349.60 372.39 L348.48 372.19 L347.36 371.99 L346.24 371.80 L345.12 371.61 L344.00 371.43 L342.88 371.25 L341.76 371.07 L340.64 370.89 L339.52 370.71 L338.40 370.53 L337.28 370.36 L336.16 370.18 L335.04 370.01 L333.91 369.83 L332.79 369.66 L331.67 369.50 L330.55 369.34 L329.43 369.18 L328.31 369.03 L327.19 368.87 L326.07 368.72 L324.95 368.57 L323.83 368.42 L322.71 368.26 L321.59 368.11 L320.47 367.95 L319.35 367.79 L318.23 367.63 L317.11 367.46 L315.99 367.29 L314.87 367.11 L313.75 366.93 L312.63 366.74 L311.51 366.55 L310.39 366.35 L309.27 366.14 L308.15 365.93 L307.03 365.71 L305.91 365.48 L304.79 365.25 L303.67 365.02 L302.55 364.78 L301.43 364.54 L300.31 364.29 L299.19 364.04 L298.07 363.78 L296.95 363.52 L295.83 363.26 L294.71 362.99 L293.59 362.72 L292.47 362.44 L291.35 362.16 L290.23 361.88 L289.11 361.60 L287.98 361.31 L286.86 361.02 L285.74 360.72 L284.62 360.41 L283.50 360.11 L282.38 359.79 L281.26 359.47 L280.14 359.15 L279.02 358.82 L277.90 358.48 L276.78 358.14 L275.66 357.80 L274.54 357.45 L273.42 357.09 L272.30 356.73 L271.18 356.37 L270.06 356.00 L268.94 355.62 L267.82 355.25 L266.70 354.86 L265.58 354.47 L264.46 354.07 L263.34 353.67 L262.22 353.25 L261.10 352.83 L259.98 352.40 L258.86 351.97 L257.74 351.53 L256.62 351.08 L255.50 350.63 L254.38 350.17 L253.26 349.71 L252.14 349.24 L251.02 348.76 L249.90 348.28 L248.78 347.80 L247.66 347.31 L246.54 346.82 L245.42 346.32 L244.30 345.82 L243.18 345.31 L242.06 344.79 L240.93 344.26 L239.81 343.73 L238.69 343.19 L237.57 342.63 L236.45 342.07 L235.33 341.51 L234.21 340.93 L233.09 340.35 L231.97 339.76 L230.85 339.16 L229.73 338.55 L228.61 337.94 L227.49 337.32 L226.37 336.68 L225.25 336.04 L224.13 335.38 L223.01 334.72 L221.89 334.04 L220.77 333.36 L219.65 332.67 L218.53 331.97 L217.41 331.26 L216.29 330.54 L215.17 329.81 L214.05 329.05 L212.93 328.29 L211.81 327.51 L210.69 326.72 L209.57 325.93 L208.45 325.14 L207.33 324.34 L206.21 323.55 L205.09 322.76 L203.97 321.98 L202.85 321.19 L201.73 320.39 L200.61 319.60 L199.49 318.80 L198.37 318.01 L197.25 317.21 L196.13 316.41 L195.01 315.62 L193.88 314.82 L192.76 314.03 L191.64 313.24 L190.52 312.45 L189.40 311.66 L188.28 310.87 L187.16 310.08 L186.04 309.30 L184.92 308.51 L183.80 307.73 L182.68 306.96 L181.56 306.18 L180.44 305.42 L179.32 304.64 L178.20 303.84 L177.08 303.05 L175.96 302.26 L174.84 301.48 L173.72 300.71 L172.60 299.97 L171.48 299.25 L170.36 298.57 L169.24 297.93 L168.12 297.33 L167.00 296.77 L165.88 296.23 L164.76 295.71 L163.64 295.21 L162.52 294.72 L161.40 294.25 L160.28 293.79 L159.16 293.33 L158.04 292.87 L156.92 292.40 L155.80 291.93 L154.68 291.45 L153.56 290.96 L152.44 290.44 L151.32 289.91 L150.20 289.35 L149.08 288.78 L147.95 288.19 L146.83 287.58 L145.71 286.97 L144.59 286.34 L143.47 285.72 L142.35 285.09 L141.23 284.46 L140.11 283.84 L138.99 283.23 L137.87 282.62 L136.75 282.04 L135.63 281.46 L134.51 280.91 L133.39 280.38 L132.27 279.87 L131.15 279.38 L130.03 278.89 L128.91 278.42 L127.79 277.95 L126.67 277.49 L125.55 277.05 L124.43 276.60 L123.31 276.17 L122.19 275.73 L121.07 275.31 L119.95 274.89 L118.83 274.47 L117.71 274.05 L116.59 273.63 L115.47 273.21 L114.35 272.80 L113.23 272.38 L112.11 271.96 L110.99 271.54 L109.87 271.12 L108.75 270.69 L107.63 270.26 L106.51 269.86 L105.39 269.50 L104.27 269.17 L103.15 268.87 L102.03 268.59 L100.90 268.32 L99.78 268.06 L98.66 267.81 L97.54 267.54 L96.42 267.27 L95.30 266.98 L94.18 266.67 L93.06 266.33 L91.94 265.95 L90.82 265.53 L89.70 265.06 L88.58 264.55 L87.46 263.97 L86.34 263.32 L85.22 262.61 L84.10 261.81 L82.98 260.93 L81.86 259.28 L80.74 255.88 L79.62 251.69 L78.50 246.00 L76.50 246.00 Z" fill="#ececec"/>
<path d="M88.60 10.00 L89.70 17.80 L90.80 25.47 L91.90 33.09 L93.00 40.64 L94.10 48.05 L95.20 55.31 L96.30 62.62 L97.40 69.90 L98.50 76.90 L99.60 83.38 L100.70 89.14 L101.80 94.48 L102.90 99.52 L104.00 104.30 L105.10 108.86 L106.20 113.24 L107.30 117.48 L108.40 121.63 L109.50 125.72 L110.60 129.76 L111.70 133.72 L112.80 137.57 L113.90 141.28 L115.00 144.83 L116.10 148.18 L117.20 151.32 L118.30 154.21 L119.40 156.88 L120.50 159.37 L121.60 161.73 L122.70 163.97 L123.80 166.14 L124.90 168.25 L126.00 170.34 L127.10 172.45 L128.20 174.60 L129.30 176.79 L130.40 179.01 L131.50 181.24 L132.60 183.47 L133.70 185.70 L134.80 187.92 L135.90 190.13 L137.00 192.31 L138.10 194.45 L139.20 196.56 L140.30 198.61 L141.40 200.61 L142.50 202.55 L143.60 204.42 L144.70 206.20 L145.80 207.90 L146.90 209.52 L148.00 211.11 L149.10 212.65 L150.20 214.15 L151.30 215.62 L152.40 217.05 L153.50 218.45 L154.60 219.81 L155.70 221.15 L156.80 222.46 L157.90 223.75 L159.00 225.01 L160.10 226.25 L161.20 227.47 L162.30 228.67 L163.40 229.85 L164.50 231.02 L165.60 232.18 L166.70 233.32 L167.80 234.45 L168.90 235.57 L170.00 236.68 L171.10 237.77 L172.20 238.85 L173.30 239.92 L174.40 240.97 L175.50 242.01 L176.60 243.03 L177.70 244.04 L178.80 245.03 L179.90 246.00 L181.00 246.95 L182.10 247.88 L183.20 248.79 L184.30 249.69 L185.40 250.56 L186.50 251.41 L187.60 252.24 L188.70 253.04 L189.80 253.83 L190.90 254.60 L192.00 255.34 L193.10 256.07 L194.20 256.79 L195.30 257.49 L196.40 258.17 L197.50 258.85 L198.60 259.51 L199.70 260.16 L200.80 260.81 L201.90 261.44 L203.00 262.07 L204.10 262.70 L205.20 263.32 L206.30 263.93 L207.40 264.55 L208.50 265.16 L209.60 265.78 L210.70 266.39 L211.80 266.99 L212.90 267.58 L214.00 268.17 L215.10 268.74 L216.20 269.31 L217.30 269.88 L218.40 270.44 L219.50 271.00 L220.60 271.57 L221.70 272.14 L222.80 272.71 L223.90 273.28 L225.00 273.86 L226.10 274.44 L227.20 275.02 L228.30 275.60 L229.40 276.18 L230.50 276.75 L231.60 277.33 L232.70 277.91 L233.80 278.49 L234.90 279.06 L236.00 279.63 L237.10 280.20 L238.20 280.76 L239.30 281.32 L240.40 281.88 L241.50 282.43 L242.60 282.98 L243.70 283.51 L244.80 284.05 L245.90 284.58 L247.00 285.11 L248.10 285.64 L249.20 286.17 L250.30 286.70 L251.40 287.22 L252.50 287.75 L253.60 288.27 L254.70 288.80 L255.80 289.32 L256.90 289.83 L258.00 290.35 L259.10 290.86 L260.20 291.37 L261.30 291.87 L262.40 292.38 L263.50 292.88 L264.60 293.37 L265.70 293.86 L266.80 294.35 L267.90 294.83 L269.00 295.30 L270.10 295.77 L271.20 296.24 L272.30 296.70 L273.40 297.15 L274.50 297.60 L275.60 298.04 L276.70 298.48 L277.80 298.91 L278.90 299.33 L280.00 299.75 L281.10 300.16 L282.20 300.57 L283.30 300.98 L284.40 301.38 L285.50 301.78 L286.60 302.17 L287.70 302.56 L288.80 302.95 L289.90 303.33 L291.00 303.71 L292.10 304.09 L293.20 304.46 L294.30 304.83 L295.40 305.20 L296.50 305.56 L297.60 305.92 L298.70 306.28 L299.80 306.63 L300.90 306.98 L302.00 307.33 L303.10 307.67 L304.20 308.02 L305.30 308.35 L306.40 308.69 L307.50 309.02 L308.60 309.35 L309.70 309.68 L310.80 310.01 L311.90 310.33 L313.00 310.65 L314.10 310.97 L315.20 311.29 L316.30 311.62 L317.40 311.93 L318.50 312.25 L319.60 312.57 L320.70 312.88 L321.80 313.18 L322.90 313.49 L324.00 313.79 L325.10 314.08 L326.20 314.37 L327.30 314.65 L328.40 314.93 L329.50 315.19 L330.60 315.45 L331.70 315.70 L332.80 315.95 L333.90 316.18 L335.00 316.40 L336.10 316.62 L337.20 316.83 L338.30 317.04 L339.40 317.24 L340.50 317.44 L341.60 317.64 L342.70 317.82 L343.80 318.01 L344.90 318.19 L346.00 318.36 L347.10 318.52 L348.20 318.68 L349.30 318.83 L350.40 318.97 L351.50 319.10 L352.60 319.22 L353.70 319.34 L354.80 319.47 L355.90 319.59 L357.00 319.71 L358.10 319.84 L359.20 319.96 L360.30 320.08 L361.40 320.19 L362.50 320.30 L363.60 320.41 L364.70 320.51 L365.80 320.60 L366.90 320.69 L368.00 320.76 L369.10 320.83 L370.20 320.89 L371.30 320.94 L372.40 320.97 L373.50 320.99 L374.60 321.00 L375.70 321.00 L376.80 320.98 L377.90 320.96 L379.00 320.94 L380.10 320.90 L381.20 320.86 L382.30 320.81 L383.40 320.75 L384.50 320.69 L385.60 320.63 L386.70 320.56 L387.80 320.48 L388.90 320.40 L390.00 320.31 L391.10 320.23 L392.20 320.13 L393.30 320.04 L394.40 319.94 L395.50 319.85 L396.60 319.75 L397.70 319.64 L398.80 319.51 L399.90 319.37 L401.00 319.20 L402.10 319.01 L403.20 318.80 L404.30 318.58 L405.40 318.34 L406.50 318.09 L407.60 317.83 L408.70 317.56 L409.80 317.28 L410.90 316.99 L412.00 316.70 L413.10 316.41 L414.20 316.11 L415.30 315.81 L416.40 315.52 L417.50 315.22 L418.60 314.93 L419.70 314.65 L420.80 314.36 L421.90 314.08 L423.00 313.78 L424.10 313.49 L425.20 313.19 L426.30 312.88 L427.40 312.57 L428.50 312.25 L429.60 311.93 L430.70 311.61 L431.80 311.28 L432.90 310.94 L434.00 310.60 L435.10 310.25 L436.20 309.90 L437.30 309.54 L438.40 309.17 L439.50 308.80 L440.60 308.42 L441.70 308.04 L442.80 307.64 L443.90 307.23 L445.00 306.81 L446.10 306.38 L447.20 305.94 L448.30 305.49 L449.40 305.02 L450.50 304.56 L451.60 304.08 L452.70 303.60 L453.80 303.11 L454.90 302.61 L456.00 302.11 L457.10 301.61 L458.20 301.11 L459.30 300.61 L460.40 300.10 L461.50 299.60 L462.60 299.09 L463.70 298.59 L464.80 298.09 L465.90 297.59 L467.00 297.09 L468.10 296.59 L469.20 296.09 L470.30 295.59 L471.40 295.08 L472.50 294.57 L473.60 294.06 L474.70 293.55 L475.80 293.04 L476.90 292.52 L478.00 292.00 L479.10 291.47 L480.20 290.95 L481.30 290.42 L482.40 289.88 L483.50 289.35 L484.60 288.80 L485.70 288.26 L486.80 287.71 L487.90 287.16 L489.00 286.60 L490.10 286.04 L491.20 285.47 L492.30 284.90 L493.40 284.32 L494.50 283.74 L495.60 283.15 L496.70 282.56 L497.80 281.97 L498.90 281.37 L500.00 280.77 L501.10 280.17 L502.20 279.56 L503.30 278.95 L504.40 278.34 L505.50 277.73 L506.60 277.11 L507.70 276.49 L508.80 275.87 L509.90 275.24 L511.00 274.62 L512.10 273.99 L513.20 273.36 L514.30 272.74 L515.40 272.11 L516.50 271.47 L517.60 270.84 L518.70 270.21 L519.80 269.57 L520.90 268.94 L522.00 268.30 L523.10 267.65 L524.20 267.01 L525.30 266.36 L526.40 265.71 L527.50 265.06 L528.60 264.41 L529.70 263.75 L530.80 263.09 L531.90 262.43 L533.00 261.77 L534.10 261.11 L535.20 260.44 L536.30 259.77 L537.40 259.10 L538.50 258.43 L539.60 257.75 L540.70 257.08 L541.80 256.40 L542.90 255.72 L544.00 255.03 L545.10 254.35 L546.20 253.66 L547.30 252.97 L548.40 252.28 L549.50 251.58 L550.60 250.88 L551.70 250.17 L552.80 249.46 L553.90 248.75 L555.00 248.04 L556.10 247.32 L557.20 246.60 L558.30 245.88 L559.40 245.16 L560.50 244.43 L561.60 243.71 L562.70 242.98 L563.80 242.26 L564.90 241.53 L566.00 240.80 L567.10 240.08 L568.20 239.35 L569.30 238.63 L570.40 237.90 L571.50 237.18 L572.60 236.46 L573.70 235.75 L574.80 235.03 L575.90 234.32 L577.00 233.60 L578.10 232.89 L579.20 232.18 L580.30 231.47 L581.40 230.76 L582.50 230.05 L583.60 229.34 L584.70 228.63 L585.80 227.93 L586.90 227.22 L588.00 226.51 L589.10 225.80 L590.20 225.09 L591.30 224.38 L592.40 223.67 L593.50 222.97 L594.60 222.26 L595.70 221.55 L596.80 220.84 L597.90 220.13 L599.00 219.41 L600.10 218.70 L601.20 217.99 L602.30 217.28 L603.40 216.56 L604.50 215.84 L605.60 215.13 L606.70 214.41 L607.80 213.70 L608.90 212.98 L610.00 212.26 L611.10 211.54 L612.20 210.82 L613.30 210.11 L614.40 209.39 L615.50 208.67 L616.60 207.95 L617.70 207.23 L618.80 206.51 L619.90 205.79 L621.00 205.06 L622.10 204.34 L623.20 203.62 L624.30 202.90 L625.40 202.18 L626.50 201.45 L627.60 200.73 L628.70 200.01 L629.80 199.28 L630.90 198.56 L632.00 197.83 L633.10 197.11 L634.20 196.38 L635.30 195.65 L636.40 194.93 L637.50 194.20" fill="none" stroke="#8c8c8c" stroke-width="1"/>
<path d="M78.50 246.00 L79.62 251.69 L80.74 255.88 L81.86 259.28 L82.98 260.93 L84.10 261.81 L85.22 262.61 L86.34 263.32 L87.46 263.97 L88.58 264.55 L89.70 265.06 L90.82 265.53 L91.94 265.95 L93.06 266.33 L94.18 266.67 L95.30 266.98 L96.42 267.27 L97.54 267.54 L98.66 267.81 L99.78 268.06 L100.90 268.32 L102.03 268.59 L103.15 268.87 L104.27 269.17 L105.39 269.50 L106.51 269.86 L107.63 270.26 L108.75 270.69 L109.87 271.12 L110.99 271.54 L112.11 271.96 L113.23 272.38 L114.35 272.80 L115.47 273.21 L116.59 273.63 L117.71 274.05 L118.83 274.47 L119.95 274.89 L121.07 275.31 L122.19 275.73 L123.31 276.17 L124.43 276.60 L125.55 277.05 L126.67 277.49 L127.79 277.95 L128.91 278.42 L130.03 278.89 L131.15 279.38 L132.27 279.87 L133.39 280.38 L134.51 280.91 L135.63 281.46 L136.75 282.04 L137.87 282.62 L138.99 283.23 L140.11 283.84 L141.23 284.46 L142.35 285.09 L143.47 285.72 L144.59 286.34 L145.71 286.97 L146.83 287.58 L147.95 288.19 L149.08 288.78 L150.20 289.35 L151.32 289.91 L152.44 290.44 L153.56 290.96 L154.68 291.45 L155.80 291.93 L156.92 292.40 L158.04 292.87 L159.16 293.33 L160.28 293.79 L161.40 294.25 L162.52 294.72 L163.64 295.21 L164.76 295.71 L165.88 296.23 L167.00 296.77 L168.12 297.33 L169.24 297.93 L170.36 298.57 L171.48 299.25 L172.60 299.97 L173.72 300.71 L174.84 301.48 L175.96 302.26 L177.08 303.05 L178.20 303.84 L179.32 304.64 L180.44 305.42 L181.56 306.18 L182.68 306.96 L183.80 307.73 L184.92 308.51 L186.04 309.30 L187.16 310.08 L188.28 310.87 L189.40 311.66 L190.52 312.45 L191.64 313.24 L192.76 314.03 L193.88 314.82 L195.01 315.62 L196.13 316.41 L197.25 317.21 L198.37 318.01 L199.49 318.80 L200.61 319.60 L201.73 320.39 L202.85 321.19 L203.97 321.98 L205.09 322.76 L206.21 323.55 L207.33 324.34 L208.45 325.14 L209.57 325.93 L210.69 326.72 L211.81 327.51 L212.93 328.29 L214.05 329.05 L215.17 329.81 L216.29 330.54 L217.41 331.26 L218.53 331.97 L219.65 332.67 L220.77 333.36 L221.89 334.04 L223.01 334.72 L224.13 335.38 L225.25 336.04 L226.37 336.68 L227.49 337.32 L228.61 337.94 L229.73 338.55 L230.85 339.16 L231.97 339.76 L233.09 340.35 L234.21 340.93 L235.33 341.51 L236.45 342.07 L237.57 342.63 L238.69 343.19 L239.81 343.73 L240.93 344.26 L242.06 344.79 L243.18 345.31 L244.30 345.82 L245.42 346.32 L246.54 346.82 L247.66 347.31 L248.78 347.80 L249.90 348.28 L251.02 348.76 L252.14 349.24 L253.26 349.71 L254.38 350.17 L255.50 350.63 L256.62 351.08 L257.74 351.53 L258.86 351.97 L259.98 352.40 L261.10 352.83 L262.22 353.25 L263.34 353.67 L264.46 354.07 L265.58 354.47 L266.70 354.86 L267.82 355.25 L268.94 355.62 L270.06 356.00 L271.18 356.37 L272.30 356.73 L273.42 357.09 L274.54 357.45 L275.66 357.80 L276.78 358.14 L277.90 358.48 L279.02 358.82 L280.14 359.15 L281.26 359.47 L282.38 359.79 L283.50 360.11 L284.62 360.41 L285.74 360.72 L286.86 361.02 L287.98 361.31 L289.11 361.60 L290.23 361.88 L291.35 362.16 L292.47 362.44 L293.59 362.72 L294.71 362.99 L295.83 363.26 L296.95 363.52 L298.07 363.78 L299.19 364.04 L300.31 364.29 L301.43 364.54 L302.55 364.78 L303.67 365.02 L304.79 365.25 L305.91 365.48 L307.03 365.71 L308.15 365.93 L309.27 366.14 L310.39 366.35 L311.51 366.55 L312.63 366.74 L313.75 366.93 L314.87 367.11 L315.99 367.29 L317.11 367.46 L318.23 367.63 L319.35 367.79 L320.47 367.95 L321.59 368.11 L322.71 368.26 L323.83 368.42 L324.95 368.57 L326.07 368.72 L327.19 368.87 L328.31 369.03 L329.43 369.18 L330.55 369.34 L331.67 369.50 L332.79 369.66 L333.91 369.83 L335.04 370.01 L336.16 370.18 L337.28 370.36 L338.40 370.53 L339.52 370.71 L340.64 370.89 L341.76 371.07 L342.88 371.25 L344.00 371.43 L345.12 371.61 L346.24 371.80 L347.36 371.99 L348.48 372.19 L349.60 372.39 L350.72 372.59 L351.84 372.79 L352.96 373.01 L354.08 373.22 L355.20 373.44 L356.32 373.67 L357.44 373.90 L358.56 374.13 L359.68 374.37 L360.80 374.61 L361.92 374.85 L363.04 375.10 L364.16 375.35 L365.28 375.60 L366.40 375.86 L367.52 376.11 L368.64 376.37 L369.76 376.63 L370.88 376.90 L372.00 377.16 L373.12 377.43 L374.24 377.69 L375.36 377.96 L376.48 378.23 L377.60 378.50 L378.72 378.78 L379.84 379.06 L380.96 379.34 L382.09 379.63 L383.21 379.92 L384.33 380.21 L385.45 380.50 L386.57 380.80 L387.69 381.09 L388.81 381.39 L389.93 381.69 L391.05 381.99 L392.17 382.29 L393.29 382.58 L394.41 382.88 L395.53 383.18 L396.65 383.48 L397.77 383.78 L398.89 384.07 L400.01 384.37 L401.13 384.66 L402.25 384.95 L403.37 385.24 L404.49 385.54 L405.61 385.83 L406.73 386.13 L407.85 386.42 L408.97 386.72 L410.09 387.02 L411.21 387.32 L412.33 387.63 L413.45 387.94 L414.57 388.26 L415.69 388.57 L416.81 388.90 L417.93 389.23 L419.05 389.56 L420.17 389.91 L421.29 390.26 L422.41 390.62 L423.53 390.98 L424.65 391.36 L425.77 391.74 L426.89 392.12 L428.02 392.51 L429.14 392.91 L430.26 393.30 L431.38 393.70 L432.50 394.10 L433.62 394.50 L434.74 394.91 L435.86 395.31 L436.98 395.71 L438.10 396.11 L439.22 396.50 L440.34 396.89 L441.46 397.28 L442.58 397.67 L443.70 398.05 L444.82 398.43 L445.94 398.81 L447.06 399.19 L448.18 399.57 L449.30 399.95 L450.42 400.32 L451.54 400.70 L452.66 401.08 L453.78 401.46 L454.90 401.83 L456.02 402.21 L457.14 402.59 L458.26 402.97 L459.38 403.36 L460.50 403.74 L461.62 404.13 L462.74 404.51 L463.86 404.90 L464.98 405.29 L466.10 405.69 L467.22 406.09 L468.34 406.49 L469.46 406.90 L470.58 407.31 L471.70 407.72 L472.82 408.13 L473.94 408.54 L475.07 408.96 L476.19 409.37 L477.31 409.79 L478.43 410.20 L479.55 410.61 L480.67 411.02 L481.79 411.43 L482.91 411.84 L484.03 412.24 L485.15 412.64 L486.27 413.03 L487.39 413.42 L488.51 413.80 L489.63 414.18 L490.75 414.55 L491.87 414.91 L492.99 415.27 L494.11 415.63 L495.23 415.98 L496.35 416.33 L497.47 416.68 L498.59 417.02 L499.71 417.37 L500.83 417.72 L501.95 418.06 L503.07 418.42 L504.19 418.77 L505.31 419.12 L506.43 419.49 L507.55 419.85 L508.67 420.22 L509.79 420.60 L510.91 420.98 L512.03 421.37 L513.15 421.76 L514.27 422.15 L515.39 422.55 L516.51 422.95 L517.63 423.35 L518.75 423.76 L519.87 424.16 L520.99 424.57 L522.12 424.98 L523.24 425.39 L524.36 425.81 L525.48 426.22 L526.60 426.64 L527.72 427.05 L528.84 427.47 L529.96 427.89 L531.08 428.30 L532.20 428.72 L533.32 429.13 L534.44 429.54 L535.56 429.96 L536.68 430.37 L537.80 430.78 L538.92 431.18 L540.04 431.59 L541.16 431.99 L542.28 432.39 L543.40 432.79 L544.52 433.18 L545.64 433.57 L546.76 433.96 L547.88 434.34 L549.00 434.73 L550.12 435.11 L551.24 435.49 L552.36 435.86 L553.48 436.24 L554.60 436.62 L555.72 436.99 L556.84 437.36 L557.96 437.73 L559.08 438.10 L560.20 438.47 L561.32 438.84 L562.44 439.21 L563.56 439.58 L564.68 439.94 L565.80 440.31 L566.92 440.67 L568.05 441.04 L569.17 441.40 L570.29 441.77 L571.41 442.13 L572.53 442.50 L573.65 442.86 L574.77 443.22 L575.89 443.59 L577.01 443.95 L578.13 444.31 L579.25 444.67 L580.37 445.03 L581.49 445.39 L582.61 445.75 L583.73 446.11 L584.85 446.47 L585.97 446.83 L587.09 447.18 L588.21 447.54 L589.33 447.90 L590.45 448.25 L591.57 448.61 L592.69 448.96 L593.81 449.32 L594.93 449.68 L596.05 450.03 L597.17 450.39 L598.29 450.74 L599.41 451.10 L600.53 451.46 L601.65 451.81 L602.77 452.17 L603.89 452.53 L605.01 452.89 L606.13 453.25 L607.25 453.61 L608.37 453.96 L609.49 454.32 L610.61 454.68 L611.73 455.04 L612.85 455.40 L613.97 455.76 L615.10 456.12 L616.22 456.47 L617.34 456.83 L618.46 457.19 L619.58 457.55 L620.70 457.91 L621.82 458.27 L622.94 458.63 L624.06 458.99 L625.18 459.35 L626.30 459.71 L627.42 460.07 L628.54 460.42 L629.66 460.78 L630.78 461.14 L631.90 461.50 L633.02 461.86 L634.14 462.22 L635.26 462.58 L636.38 462.94 L637.50 463.30" fill="none" stroke="#8c8c8c" stroke-width="1"/>
<path d="M78.50 41.80 L79.62 44.83 L80.74 47.76 L81.86 50.60 L82.98 53.35 L84.10 56.00 L85.22 58.55 L86.34 61.02 L87.46 63.38 L88.58 65.61 L89.70 67.74 L90.82 69.81 L91.94 71.86 L93.06 73.93 L94.18 76.04 L95.30 78.14 L96.42 80.22 L97.54 82.24 L98.66 84.16 L99.78 85.97 L100.90 87.64 L102.03 89.23 L103.15 90.75 L104.27 92.22 L105.39 93.64 L106.51 95.01 L107.63 96.36 L108.75 97.69 L109.87 99.00 L110.99 100.31 L112.11 101.63 L113.23 102.94 L114.35 104.23 L115.47 105.51 L116.59 106.78 L117.71 108.03 L118.83 109.26 L119.95 110.49 L121.07 111.70 L122.19 112.90 L123.31 114.09 L124.43 115.27 L125.55 116.44 L126.67 117.60 L127.79 118.75 L128.91 119.91 L130.03 121.05 L131.15 122.19 L132.27 123.33 L133.39 124.46 L134.51 125.58 L135.63 126.69 L136.75 127.80 L137.87 128.89 L138.99 129.97 L140.11 131.05 L141.23 132.11 L142.35 133.16 L143.47 134.20 L144.59 135.22 L145.71 136.23 L146.83 137.22 L147.95 138.20 L149.08 139.17 L150.20 140.12 L151.32 141.06 L152.44 141.99 L153.56 142.91 L154.68 143.82 L155.80 144.71 L156.92 145.60 L158.04 146.47 L159.16 147.34 L160.28 148.19 L161.40 149.03 L162.52 149.86 L163.64 150.67 L164.76 151.48 L165.88 152.27 L167.00 153.06 L168.12 153.83 L169.24 154.60 L170.36 155.36 L171.48 156.11 L172.60 156.86 L173.72 157.59 L174.84 158.33 L175.96 159.05 L177.08 159.77 L178.20 160.48 L179.32 161.19 L180.44 161.89 L181.56 162.59 L182.68 163.28 L183.80 163.96 L184.92 164.65 L186.04 165.32 L187.16 166.00 L188.28 166.67 L189.40 167.33 L190.52 167.99 L191.64 168.65 L192.76 169.31 L193.88 169.96 L195.01 170.62 L196.13 171.27 L197.25 171.91 L198.37 172.56 L199.49 173.20 L200.61 173.85 L201.73 174.48 L202.85 175.12 L203.97 175.74 L205.09 176.37 L206.21 176.98 L207.33 177.60 L208.45 178.20 L209.57 178.81 L210.69 179.41 L211.81 180.01 L212.93 180.61 L214.05 181.20 L215.17 181.79 L216.29 182.38 L217.41 182.97 L218.53 183.55 L219.65 184.14 L220.77 184.72 L221.89 185.31 L223.01 185.89 L224.13 186.47 L225.25 187.06 L226.37 187.64 L227.49 188.23 L228.61 188.82 L229.73 189.40 L230.85 189.99 L231.97 190.59 L233.09 191.18 L234.21 191.78 L235.33 192.38 L236.45 192.98 L237.57 193.59 L238.69 194.19 L239.81 194.80 L240.93 195.41 L242.06 196.02 L243.18 196.63 L244.30 197.24 L245.42 197.85 L246.54 198.46 L247.66 199.07 L248.78 199.68 L249.90 200.29 L251.02 200.89 L252.14 201.50 L253.26 202.10 L254.38 202.70 L255.50 203.30 L256.62 203.90 L257.74 204.49 L258.86 205.08 L259.98 205.67 L261.10 206.25 L262.22 206.83 L263.34 207.40 L264.46 207.97 L265.58 208.54 L266.70 209.10 L267.82 209.66 L268.94 210.21 L270.06 210.77 L271.18 211.32 L272.30 211.87 L273.42 212.41 L274.54 212.96 L275.66 213.50 L276.78 214.04 L277.90 214.58 L279.02 215.12 L280.14 215.65 L281.26 216.19 L282.38 216.72 L283.50 217.24 L284.62 217.77 L285.74 218.29 L286.86 218.81 L287.98 219.32 L289.11 219.83 L290.23 220.34 L291.35 220.85 L292.47 221.35 L293.59 221.85 L294.71 222.35 L295.83 222.84 L296.95 223.33 L298.07 223.82 L299.19 224.30 L300.31 224.78 L301.43 225.25 L302.55 225.72 L303.67 226.18 L304.79 226.64 L305.91 227.10 L307.03 227.55 L308.15 228.00 L309.27 228.44 L310.39 228.89 L311.51 229.33 L312.63 229.76 L313.75 230.20 L314.87 230.63 L315.99 231.06 L317.11 231.48 L318.23 231.91 L319.35 232.34 L320.47 232.76 L321.59 233.18 L322.71 233.61 L323.83 234.03 L324.95 234.46 L326.07 234.88 L327.19 235.30 L328.31 235.73 L329.43 236.16 L330.55 236.58 L331.67 237.01 L332.79 237.44 L333.91 237.88 L335.04 238.31 L336.16 238.75 L337.28 239.20 L338.40 239.65 L339.52 240.11 L340.64 240.56 L341.76 241.02 L342.88 241.47 L344.00 241.93 L345.12 242.37 L346.24 242.82 L347.36 243.25 L348.48 243.68 L349.60 244.10 L350.72 244.51 L351.84 244.91 L352.96 245.29 L354.08 245.67 L355.20 246.05 L356.32 246.42 L357.44 246.79 L358.56 247.16 L359.68 247.52 L360.80 247.88 L361.92 248.24 L363.04 248.58 L364.16 248.93 L365.28 249.26 L366.40 249.59 L367.52 249.92 L368.64 250.23 L369.76 250.54 L370.88 250.84 L372.00 251.13 L373.12 251.42 L374.24 251.69 L375.36 251.96 L376.48 252.22 L377.60 252.48 L378.72 252.73 L379.84 252.98 L380.96 253.22 L382.09 253.46 L383.21 253.70 L384.33 253.93 L385.45 254.16 L386.57 254.38 L387.69 254.59 L388.81 254.81 L389.93 255.01 L391.05 255.21 L392.17 255.41 L393.29 255.60 L394.41 255.78 L395.53 255.96 L396.65 256.13 L397.77 256.30 L398.89 256.47 L400.01 256.63 L401.13 256.79 L402.25 256.95 L403.37 257.11 L404.49 257.27 L405.61 257.42 L406.73 257.57 L407.85 257.72 L408.97 257.86 L410.09 257.99 L411.21 258.12 L412.33 258.25 L413.45 258.37 L414.57 258.48 L415.69 258.59 L416.81 258.69 L417.93 258.78 L419.05 258.87 L420.17 258.95 L421.29 259.02 L422.41 259.10 L423.53 259.17 L424.65 259.24 L425.77 259.31 L426.89 259.38 L428.02 259.45 L429.14 259.51 L430.26 259.57 L431.38 259.62 L432.50 259.68 L433.62 259.73 L434.74 259.78 L435.86 259.82 L436.98 259.86 L438.10 259.90 L439.22 259.94 L440.34 259.97 L441.46 259.99 L442.58 260.02 L443.70 260.04 L444.82 260.05 L445.94 260.07 L447.06 260.09 L448.18 260.10 L449.30 260.11 L450.42 260.12 L451.54 260.14 L452.66 260.15 L453.78 260.16 L454.90 260.17 L456.02 260.18 L457.14 260.19 L458.26 260.20 L459.38 260.21 L460.50 260.23 L461.62 260.24 L462.74 260.26 L463.86 260.28 L464.98 260.30 L466.10 260.32 L467.22 260.36 L468.34 260.40 L469.46 260.44 L470.58 260.49 L471.70 260.54 L472.82 260.60 L473.94 260.65 L475.07 260.71 L476.19 260.77 L477.31 260.83 L478.43 260.89 L479.55 260.94 L480.67 260.99 L481.79 261.04 L482.91 261.08 L484.03 261.12 L485.15 261.15 L486.27 261.18 L487.39 261.19 L488.51 261.20 L489.63 261.20 L490.75 261.19 L491.87 261.18 L492.99 261.17 L494.11 261.15 L495.23 261.12 L496.35 261.09 L497.47 261.06 L498.59 261.02 L499.71 260.98 L500.83 260.94 L501.95 260.89 L503.07 260.84 L504.19 260.79 L505.31 260.74 L506.43 260.68 L507.55 260.62 L508.67 260.55 L509.79 260.49 L510.91 260.42 L512.03 260.35 L513.15 260.28 L514.27 260.21 L515.39 260.14 L516.51 260.07 L517.63 259.99 L518.75 259.90 L519.87 259.80 L520.99 259.68 L522.12 259.55 L523.24 259.40 L524.36 259.24 L525.48 259.06 L526.60 258.88 L527.72 258.68 L528.84 258.48 L529.96 258.27 L531.08 258.06 L532.20 257.84 L533.32 257.61 L534.44 257.39 L535.56 257.16 L536.68 256.93 L537.80 256.70 L538.92 256.47 L540.04 256.25 L541.16 256.03 L542.28 255.81 L543.40 255.60 L544.52 255.40 L545.64 255.21 L546.76 255.02 L547.88 254.84 L549.00 254.67 L550.12 254.49 L551.24 254.31 L552.36 254.14 L553.48 253.97 L554.60 253.80 L555.72 253.63 L556.84 253.46 L557.96 253.29 L559.08 253.12 L560.20 252.95 L561.32 252.78 L562.44 252.61 L563.56 252.44 L564.68 252.27 L565.80 252.09 L566.92 251.91 L568.05 251.73 L569.17 251.55 L570.29 251.37 L571.41 251.18 L572.53 250.99 L573.65 250.79 L574.77 250.59 L575.89 250.40 L577.01 250.20 L578.13 249.99 L579.25 249.79 L580.37 249.58 L581.49 249.38 L582.61 249.17 L583.73 248.96 L584.85 248.75 L585.97 248.53 L587.09 248.32 L588.21 248.10 L589.33 247.88 L590.45 247.66 L591.57 247.44 L592.69 247.21 L593.81 246.99 L594.93 246.76 L596.05 246.53 L597.17 246.30 L598.29 246.06 L599.41 245.82 L600.53 245.59 L601.65 245.35 L602.77 245.10 L603.89 244.86 L605.01 244.61 L606.13 244.36 L607.25 244.11 L608.37 243.86 L609.49 243.60 L610.61 243.34 L611.73 243.08 L612.85 242.81 L613.97 242.54 L615.10 242.27 L616.22 241.99 L617.34 241.72 L618.46 241.43 L619.58 241.15 L620.70 240.86 L621.82 240.56 L622.94 240.27 L624.06 239.97 L625.18 239.67 L626.30 239.37 L627.42 239.06 L628.54 238.75 L629.66 238.44 L630.78 238.13 L631.90 237.81 L633.02 237.49 L634.14 237.17 L635.26 236.85 L636.38 236.53 L637.50 236.20" fill="none" stroke="#4c4ca4" stroke-opacity="0.66" stroke-width="1" stroke-dasharray="23.4 11.3" stroke-dashoffset="0.3"/>
<path d="M78.50 247.50 L79.62 251.76 L80.74 255.83 L81.86 259.71 L82.98 263.39 L84.10 266.86 L85.22 270.13 L86.34 273.20 L87.46 276.08 L88.58 278.80 L89.70 281.35 L90.82 283.71 L91.94 285.87 L93.06 287.95 L94.18 290.07 L95.30 292.35 L96.42 294.72 L97.54 297.10 L98.66 299.40 L99.78 301.52 L100.90 303.55 L102.03 305.52 L103.15 307.44 L104.27 309.31 L105.39 311.12 L106.51 312.88 L107.63 314.58 L108.75 316.23 L109.87 317.81 L110.99 319.37 L112.11 320.89 L113.23 322.39 L114.35 323.86 L115.47 325.30 L116.59 326.72 L117.71 328.12 L118.83 329.49 L119.95 330.83 L121.07 332.16 L122.19 333.46 L123.31 334.74 L124.43 336.00 L125.55 337.24 L126.67 338.46 L127.79 339.66 L128.91 340.85 L130.03 342.02 L131.15 343.17 L132.27 344.30 L133.39 345.42 L134.51 346.52 L135.63 347.61 L136.75 348.67 L137.87 349.73 L138.99 350.77 L140.11 351.79 L141.23 352.80 L142.35 353.79 L143.47 354.77 L144.59 355.74 L145.71 356.69 L146.83 357.63 L147.95 358.56 L149.08 359.47 L150.20 360.37 L151.32 361.26 L152.44 362.13 L153.56 362.99 L154.68 363.85 L155.80 364.69 L156.92 365.52 L158.04 366.35 L159.16 367.16 L160.28 367.96 L161.40 368.75 L162.52 369.53 L163.64 370.29 L164.76 371.05 L165.88 371.80 L167.00 372.54 L168.12 373.26 L169.24 373.98 L170.36 374.68 L171.48 375.38 L172.60 376.06 L173.72 376.74 L174.84 377.41 L175.96 378.07 L177.08 378.72 L178.20 379.37 L179.32 380.01 L180.44 380.64 L181.56 381.27 L182.68 381.88 L183.80 382.49 L184.92 383.08 L186.04 383.67 L187.16 384.25 L188.28 384.81 L189.40 385.37 L190.52 385.91 L191.64 386.44 L192.76 386.96 L193.88 387.47 L195.01 387.97 L196.13 388.45 L197.25 388.92 L198.37 389.38 L199.49 389.84 L200.61 390.28 L201.73 390.71 L202.85 391.14 L203.97 391.56 L205.09 391.98 L206.21 392.40 L207.33 392.81 L208.45 393.22 L209.57 393.63 L210.69 394.04 L211.81 394.45 L212.93 394.87 L214.05 395.28 L215.17 395.71 L216.29 396.13 L217.41 396.57 L218.53 397.01 L219.65 397.46 L220.77 397.91 L221.89 398.36 L223.01 398.82 L224.13 399.28 L225.25 399.74 L226.37 400.19 L227.49 400.64 L228.61 401.09 L229.73 401.53 L230.85 401.96 L231.97 402.39 L233.09 402.81 L234.21 403.23 L235.33 403.64 L236.45 404.05 L237.57 404.46 L238.69 404.87 L239.81 405.28 L240.93 405.68 L242.06 406.08 L243.18 406.48 L244.30 406.88 L245.42 407.27 L246.54 407.67 L247.66 408.06 L248.78 408.45 L249.90 408.83 L251.02 409.22 L252.14 409.60 L253.26 409.98 L254.38 410.36 L255.50 410.74 L256.62 411.11 L257.74 411.48 L258.86 411.85 L259.98 412.22 L261.10 412.59 L262.22 412.96 L263.34 413.32 L264.46 413.68 L265.58 414.04 L266.70 414.40 L267.82 414.76 L268.94 415.12 L270.06 415.48 L271.18 415.84 L272.30 416.19 L273.42 416.55 L274.54 416.90 L275.66 417.25 L276.78 417.60 L277.90 417.95 L279.02 418.29 L280.14 418.63 L281.26 418.97 L282.38 419.31 L283.50 419.65 L284.62 419.98 L285.74 420.31 L286.86 420.63 L287.98 420.96 L289.11 421.27 L290.23 421.59 L291.35 421.90 L292.47 422.21 L293.59 422.51 L294.71 422.81 L295.83 423.11 L296.95 423.40 L298.07 423.69 L299.19 423.99 L300.31 424.28 L301.43 424.58 L302.55 424.87 L303.67 425.16 L304.79 425.45 L305.91 425.74 L307.03 426.03 L308.15 426.31 L309.27 426.59 L310.39 426.87 L311.51 427.15 L312.63 427.42 L313.75 427.68 L314.87 427.94 L315.99 428.20 L317.11 428.45 L318.23 428.70 L319.35 428.93 L320.47 429.17 L321.59 429.39 L322.71 429.61 L323.83 429.82 L324.95 430.02 L326.07 430.22 L327.19 430.40 L328.31 430.58 L329.43 430.75 L330.55 430.92 L331.67 431.09 L332.79 431.25 L333.91 431.41 L335.04 431.57 L336.16 431.72 L337.28 431.87 L338.40 432.02 L339.52 432.16 L340.64 432.30 L341.76 432.44 L342.88 432.57 L344.00 432.70 L345.12 432.83 L346.24 432.96 L347.36 433.09 L348.48 433.21 L349.60 433.33 L350.72 433.44 L351.84 433.56 L352.96 433.67 L354.08 433.78 L355.20 433.89 L356.32 433.99 L357.44 434.10 L358.56 434.20 L359.68 434.30 L360.80 434.40 L361.92 434.50 L363.04 434.61 L364.16 434.72 L365.28 434.83 L366.40 434.93 L367.52 435.04 L368.64 435.15 L369.76 435.25 L370.88 435.34 L372.00 435.44 L373.12 435.52 L374.24 435.61 L375.36 435.68 L376.48 435.74 L377.60 435.80 L378.72 435.84 L379.84 435.87 L380.96 435.89 L382.09 435.90 L383.21 435.90 L384.33 435.89 L385.45 435.88 L386.57 435.87 L387.69 435.85 L388.81 435.83 L389.93 435.80 L391.05 435.78 L392.17 435.75 L393.29 435.71 L394.41 435.68 L395.53 435.65 L396.65 435.61 L397.77 435.57 L398.89 435.54 L400.01 435.50 L401.13 435.46 L402.25 435.41 L403.37 435.36 L404.49 435.31 L405.61 435.24 L406.73 435.18 L407.85 435.11 L408.97 435.03 L410.09 434.95 L411.21 434.87 L412.33 434.78 L413.45 434.69 L414.57 434.60 L415.69 434.50 L416.81 434.40 L417.93 434.29 L419.05 434.18 L420.17 434.07 L421.29 433.96 L422.41 433.84 L423.53 433.72 L424.65 433.60 L425.77 433.48 L426.89 433.35 L428.02 433.23 L429.14 433.10 L430.26 432.97 L431.38 432.83 L432.50 432.68 L433.62 432.52 L434.74 432.34 L435.86 432.16 L436.98 431.97 L438.10 431.76 L439.22 431.56 L440.34 431.34 L441.46 431.12 L442.58 430.89 L443.70 430.66 L444.82 430.43 L445.94 430.19 L447.06 429.95 L448.18 429.71 L449.30 429.47 L450.42 429.23 L451.54 428.99 L452.66 428.75 L453.78 428.52 L454.90 428.29 L456.02 428.06 L457.14 427.84 L458.26 427.62 L459.38 427.41 L460.50 427.21 L461.62 427.01 L462.74 426.82 L463.86 426.63 L464.98 426.45 L466.10 426.26 L467.22 426.08 L468.34 425.90 L469.46 425.73 L470.58 425.55 L471.70 425.38 L472.82 425.20 L473.94 425.02 L475.07 424.84 L476.19 424.67 L477.31 424.48 L478.43 424.30 L479.55 424.11 L480.67 423.92 L481.79 423.73 L482.91 423.53 L484.03 423.33 L485.15 423.12 L486.27 422.91 L487.39 422.69 L488.51 422.46 L489.63 422.22 L490.75 421.97 L491.87 421.71 L492.99 421.44 L494.11 421.15 L495.23 420.86 L496.35 420.57 L497.47 420.27 L498.59 419.97 L499.71 419.67 L500.83 419.37 L501.95 419.07 L503.07 418.78 L504.19 418.50 L505.31 418.22 L506.43 417.96 L507.55 417.70 L508.67 417.44 L509.79 417.18 L510.91 416.93 L512.03 416.67 L513.15 416.41 L514.27 416.15 L515.39 415.89 L516.51 415.62 L517.63 415.34 L518.75 415.07 L519.87 414.78 L520.99 414.50 L522.12 414.21 L523.24 413.93 L524.36 413.64 L525.48 413.34 L526.60 413.05 L527.72 412.75 L528.84 412.46 L529.96 412.16 L531.08 411.86 L532.20 411.56 L533.32 411.26 L534.44 410.95 L535.56 410.65 L536.68 410.34 L537.80 410.04 L538.92 409.73 L540.04 409.43 L541.16 409.12 L542.28 408.81 L543.40 408.49 L544.52 408.16 L545.64 407.83 L546.76 407.50 L547.88 407.17 L549.00 406.83 L550.12 406.49 L551.24 406.15 L552.36 405.81 L553.48 405.47 L554.60 405.13 L555.72 404.79 L556.84 404.45 L557.96 404.11 L559.08 403.78 L560.20 403.46 L561.32 403.13 L562.44 402.82 L563.56 402.50 L564.68 402.20 L565.80 401.90 L566.92 401.61 L568.05 401.33 L569.17 401.06 L570.29 400.79 L571.41 400.54 L572.53 400.29 L573.65 400.05 L574.77 399.81 L575.89 399.58 L577.01 399.35 L578.13 399.12 L579.25 398.90 L580.37 398.69 L581.49 398.47 L582.61 398.26 L583.73 398.05 L584.85 397.85 L585.97 397.64 L587.09 397.44 L588.21 397.24 L589.33 397.04 L590.45 396.85 L591.57 396.65 L592.69 396.46 L593.81 396.27 L594.93 396.07 L596.05 395.88 L597.17 395.69 L598.29 395.50 L599.41 395.30 L600.53 395.11 L601.65 394.91 L602.77 394.72 L603.89 394.52 L605.01 394.32 L606.13 394.12 L607.25 393.92 L608.37 393.71 L609.49 393.50 L610.61 393.29 L611.73 393.08 L612.85 392.87 L613.97 392.66 L615.10 392.45 L616.22 392.24 L617.34 392.03 L618.46 391.82 L619.58 391.60 L620.70 391.39 L621.82 391.18 L622.94 390.97 L624.06 390.76 L625.18 390.54 L626.30 390.33 L627.42 390.12 L628.54 389.91 L629.66 389.69 L630.78 389.48 L631.90 389.27 L633.02 389.05 L634.14 388.84 L635.26 388.63 L636.38 388.41 L637.50 388.20" fill="none" stroke="#4c4ca4" stroke-opacity="0.66" stroke-width="1" stroke-dasharray="23.4 11.3" stroke-dashoffset="0.9"/>
<path d="M78.50 124.60 L79.62 127.71 L80.74 130.75 L81.86 133.73 L82.98 136.65 L84.10 139.50 L85.22 142.28 L86.34 144.97 L87.46 147.60 L88.58 150.20 L89.70 152.78 L90.82 155.38 L91.94 158.01 L93.06 160.66 L94.18 163.31 L95.30 165.94 L96.42 168.54 L97.54 171.10 L98.66 173.59 L99.78 176.00 L100.90 178.31 L102.03 180.53 L103.15 182.71 L104.27 184.84 L105.39 186.95 L106.51 189.01 L107.63 191.04 L108.75 193.03 L109.87 194.98 L110.99 196.89 L112.11 198.77 L113.23 200.61 L114.35 202.42 L115.47 204.19 L116.59 205.92 L117.71 207.62 L118.83 209.28 L119.95 210.91 L121.07 212.51 L122.19 214.09 L123.31 215.64 L124.43 217.17 L125.55 218.67 L126.67 220.14 L127.79 221.59 L128.91 223.02 L130.03 224.42 L131.15 225.81 L132.27 227.17 L133.39 228.51 L134.51 229.83 L135.63 231.13 L136.75 232.41 L137.87 233.67 L138.99 234.91 L140.11 236.14 L141.23 237.35 L142.35 238.54 L143.47 239.72 L144.59 240.88 L145.71 242.03 L146.83 243.16 L147.95 244.28 L149.08 245.39 L150.20 246.48 L151.32 247.56 L152.44 248.63 L153.56 249.68 L154.68 250.72 L155.80 251.76 L156.92 252.78 L158.04 253.79 L159.16 254.80 L160.28 255.79 L161.40 256.77 L162.52 257.73 L163.64 258.69 L164.76 259.63 L165.88 260.56 L167.00 261.48 L168.12 262.39 L169.24 263.29 L170.36 264.19 L171.48 265.07 L172.60 265.95 L173.72 266.82 L174.84 267.69 L175.96 268.55 L177.08 269.41 L178.20 270.27 L179.32 271.12 L180.44 271.97 L181.56 272.82 L182.68 273.67 L183.80 274.52 L184.92 275.36 L186.04 276.21 L187.16 277.05 L188.28 277.89 L189.40 278.72 L190.52 279.55 L191.64 280.37 L192.76 281.19 L193.88 281.99 L195.01 282.79 L196.13 283.58 L197.25 284.35 L198.37 285.12 L199.49 285.87 L200.61 286.60 L201.73 287.33 L202.85 288.03 L203.97 288.73 L205.09 289.42 L206.21 290.09 L207.33 290.76 L208.45 291.41 L209.57 292.06 L210.69 292.70 L211.81 293.34 L212.93 293.96 L214.05 294.59 L215.17 295.20 L216.29 295.81 L217.41 296.42 L218.53 297.03 L219.65 297.63 L220.77 298.23 L221.89 298.83 L223.01 299.43 L224.13 300.02 L225.25 300.61 L226.37 301.20 L227.49 301.78 L228.61 302.36 L229.73 302.93 L230.85 303.51 L231.97 304.08 L233.09 304.64 L234.21 305.20 L235.33 305.76 L236.45 306.32 L237.57 306.87 L238.69 307.42 L239.81 307.96 L240.93 308.50 L242.06 309.04 L243.18 309.58 L244.30 310.11 L245.42 310.64 L246.54 311.17 L247.66 311.70 L248.78 312.22 L249.90 312.75 L251.02 313.27 L252.14 313.79 L253.26 314.31 L254.38 314.83 L255.50 315.34 L256.62 315.84 L257.74 316.35 L258.86 316.84 L259.98 317.34 L261.10 317.82 L262.22 318.30 L263.34 318.77 L264.46 319.24 L265.58 319.69 L266.70 320.14 L267.82 320.58 L268.94 321.02 L270.06 321.45 L271.18 321.87 L272.30 322.29 L273.42 322.70 L274.54 323.11 L275.66 323.51 L276.78 323.91 L277.90 324.31 L279.02 324.70 L280.14 325.08 L281.26 325.47 L282.38 325.85 L283.50 326.22 L284.62 326.60 L285.74 326.97 L286.86 327.34 L287.98 327.71 L289.11 328.07 L290.23 328.44 L291.35 328.80 L292.47 329.16 L293.59 329.51 L294.71 329.87 L295.83 330.22 L296.95 330.57 L298.07 330.92 L299.19 331.26 L300.31 331.60 L301.43 331.94 L302.55 332.28 L303.67 332.61 L304.79 332.94 L305.91 333.26 L307.03 333.58 L308.15 333.90 L309.27 334.21 L310.39 334.52 L311.51 334.82 L312.63 335.12 L313.75 335.41 L314.87 335.70 L315.99 335.98 L317.11 336.26 L318.23 336.53 L319.35 336.80 L320.47 337.07 L321.59 337.34 L322.71 337.60 L323.83 337.86 L324.95 338.12 L326.07 338.38 L327.19 338.64 L328.31 338.90 L329.43 339.16 L330.55 339.43 L331.67 339.69 L332.79 339.96 L333.91 340.23 L335.04 340.51 L336.16 340.79 L337.28 341.08 L338.40 341.38 L339.52 341.68 L340.64 341.99 L341.76 342.29 L342.88 342.60 L344.00 342.90 L345.12 343.20 L346.24 343.49 L347.36 343.77 L348.48 344.05 L349.60 344.31 L350.72 344.56 L351.84 344.79 L352.96 345.01 L354.08 345.22 L355.20 345.42 L356.32 345.62 L357.44 345.82 L358.56 346.01 L359.68 346.19 L360.80 346.38 L361.92 346.55 L363.04 346.73 L364.16 346.89 L365.28 347.06 L366.40 347.22 L367.52 347.38 L368.64 347.53 L369.76 347.68 L370.88 347.83 L372.00 347.97 L373.12 348.11 L374.24 348.25 L375.36 348.38 L376.48 348.51 L377.60 348.64 L378.72 348.77 L379.84 348.89 L380.96 349.01 L382.09 349.13 L383.21 349.25 L384.33 349.36 L385.45 349.48 L386.57 349.59 L387.69 349.69 L388.81 349.80 L389.93 349.90 L391.05 350.00 L392.17 350.10 L393.29 350.19 L394.41 350.29 L395.53 350.38 L396.65 350.47 L397.77 350.55 L398.89 350.64 L400.01 350.72 L401.13 350.81 L402.25 350.90 L403.37 350.98 L404.49 351.06 L405.61 351.15 L406.73 351.23 L407.85 351.31 L408.97 351.38 L410.09 351.45 L411.21 351.52 L412.33 351.59 L413.45 351.65 L414.57 351.71 L415.69 351.76 L416.81 351.81 L417.93 351.85 L419.05 351.89 L420.17 351.92 L421.29 351.95 L422.41 351.98 L423.53 352.01 L424.65 352.04 L425.77 352.07 L426.89 352.09 L428.02 352.12 L429.14 352.15 L430.26 352.17 L431.38 352.19 L432.50 352.21 L433.62 352.23 L434.74 352.25 L435.86 352.26 L436.98 352.27 L438.10 352.28 L439.22 352.29 L440.34 352.30 L441.46 352.30 L442.58 352.30 L443.70 352.30 L444.82 352.29 L445.94 352.28 L447.06 352.27 L448.18 352.26 L449.30 352.25 L450.42 352.23 L451.54 352.21 L452.66 352.19 L453.78 352.17 L454.90 352.15 L456.02 352.12 L457.14 352.10 L458.26 352.07 L459.38 352.05 L460.50 352.02 L461.62 351.99 L462.74 351.96 L463.86 351.93 L464.98 351.90 L466.10 351.87 L467.22 351.83 L468.34 351.78 L469.46 351.73 L470.58 351.68 L471.70 351.62 L472.82 351.56 L473.94 351.49 L475.07 351.42 L476.19 351.35 L477.31 351.27 L478.43 351.19 L479.55 351.11 L480.67 351.03 L481.79 350.94 L482.91 350.86 L484.03 350.77 L485.15 350.68 L486.27 350.60 L487.39 350.51 L488.51 350.42 L489.63 350.34 L490.75 350.25 L491.87 350.15 L492.99 350.06 L494.11 349.96 L495.23 349.86 L496.35 349.75 L497.47 349.65 L498.59 349.54 L499.71 349.43 L500.83 349.32 L501.95 349.20 L503.07 349.09 L504.19 348.97 L505.31 348.85 L506.43 348.73 L507.55 348.61 L508.67 348.49 L509.79 348.36 L510.91 348.24 L512.03 348.12 L513.15 347.99 L514.27 347.86 L515.39 347.74 L516.51 347.61 L517.63 347.48 L518.75 347.36 L519.87 347.23 L520.99 347.10 L522.12 346.97 L523.24 346.84 L524.36 346.70 L525.48 346.57 L526.60 346.43 L527.72 346.30 L528.84 346.16 L529.96 346.02 L531.08 345.88 L532.20 345.73 L533.32 345.59 L534.44 345.44 L535.56 345.30 L536.68 345.15 L537.80 345.00 L538.92 344.84 L540.04 344.69 L541.16 344.54 L542.28 344.38 L543.40 344.22 L544.52 344.06 L545.64 343.90 L546.76 343.73 L547.88 343.56 L549.00 343.39 L550.12 343.22 L551.24 343.04 L552.36 342.86 L553.48 342.68 L554.60 342.49 L555.72 342.30 L556.84 342.11 L557.96 341.92 L559.08 341.73 L560.20 341.53 L561.32 341.34 L562.44 341.14 L563.56 340.94 L564.68 340.74 L565.80 340.54 L566.92 340.34 L568.05 340.14 L569.17 339.94 L570.29 339.74 L571.41 339.54 L572.53 339.34 L573.65 339.14 L574.77 338.94 L575.89 338.74 L577.01 338.55 L578.13 338.35 L579.25 338.15 L580.37 337.95 L581.49 337.75 L582.61 337.56 L583.73 337.36 L584.85 337.16 L585.97 336.96 L587.09 336.75 L588.21 336.55 L589.33 336.35 L590.45 336.15 L591.57 335.95 L592.69 335.74 L593.81 335.54 L594.93 335.34 L596.05 335.13 L597.17 334.93 L598.29 334.72 L599.41 334.51 L600.53 334.31 L601.65 334.10 L602.77 333.89 L603.89 333.68 L605.01 333.47 L606.13 333.26 L607.25 333.05 L608.37 332.84 L609.49 332.63 L610.61 332.42 L611.73 332.21 L612.85 332.00 L613.97 331.78 L615.10 331.57 L616.22 331.36 L617.34 331.14 L618.46 330.93 L619.58 330.71 L620.70 330.50 L621.82 330.28 L622.94 330.06 L624.06 329.85 L625.18 329.63 L626.30 329.41 L627.42 329.19 L628.54 328.97 L629.66 328.75 L630.78 328.53 L631.90 328.31 L633.02 328.09 L634.14 327.87 L635.26 327.65 L636.38 327.42 L637.50 327.20" fill="none" stroke="#ff0000" stroke-width="1.8" stroke-linejoin="round"/>
<g stroke="#5555ff" stroke-width="0.95" fill="none">
<path d="M137.1 178.6 V214.9 M133.5 178.6 h7.2 M133.5 214.9 h7.2 M103.1 197.0 H147.6 M103.1 193.4 v7.2 M147.6 193.4 v7.2"/>
<path d="M165.5 193.6 V212.2 M161.9 193.6 h7.2 M161.9 212.2 h7.2 M147.6 202.8 H180.0 M147.6 199.2 v7.2 M180.0 199.2 v7.2"/>
<path d="M203.5 227.2 V243.5 M199.9 227.2 h7.2 M199.9 243.5 h7.2 M180.0 235.2 H226.0 M180.0 231.6 v7.2 M226.0 231.6 v7.2"/>
<path d="M247.0 263.6 V284.5 M243.4 263.6 h7.2 M243.4 284.5 h7.2 M226.0 273.4 H271.1 M226.0 269.8 v7.2 M271.1 269.8 v7.2"/>
<path d="M289.5 298.4 V323.0 M285.9 298.4 h7.2 M285.9 323.0 h7.2 M271.1 310.7 H302.9 M271.1 307.1 v7.2 M302.9 307.1 v7.2"/>
<path d="M322.8 292.4 V315.4 M319.2 292.4 h7.2 M319.2 315.4 h7.2 M302.9 303.5 H345.2 M302.9 299.9 v7.2 M345.2 299.9 v7.2"/>
<path d="M369.4 310.9 V347.2 M365.8 310.9 h7.2 M365.8 347.2 h7.2 M345.2 329.5 H403.4 M345.2 325.9 v7.2 M403.4 325.9 v7.2"/>
<path d="M429.3 288.3 V359.0 M425.7 288.3 h7.2 M425.7 359.0 h7.2 M403.4 323.2 H469.5 M403.4 319.6 v7.2 M469.5 319.6 v7.2"/>
<path d="M494.2 230.0 V405.0 M490.6 230.0 h7.2 M490.6 405.0 h7.2 M469.5 311.3 H539.6 M469.5 307.7 v7.2 M539.6 307.7 v7.2"/>
</g>
<circle cx="137.1" cy="197.0" r="3.45" fill="#0000ff"/>
<circle cx="165.5" cy="202.8" r="3.45" fill="#0000ff"/>
<circle cx="203.5" cy="235.2" r="3.45" fill="#0000ff"/>
<circle cx="247.0" cy="273.4" r="3.45" fill="#0000ff"/>
<circle cx="289.5" cy="310.7" r="3.45" fill="#0000ff"/>
<circle cx="322.8" cy="303.5" r="3.45" fill="#0000ff"/>
<circle cx="369.4" cy="329.5" r="3.45" fill="#0000ff"/>
<circle cx="429.3" cy="323.2" r="3.45" fill="#0000ff"/>
<circle cx="494.2" cy="311.3" r="3.45" fill="#0000ff"/>
<g stroke="#44dd44" stroke-width="0.95" fill="none">
<path d="M151.0 191.4 V221.6 M147.4 191.4 h7.2 M147.4 221.6 h7.2"/>
<path d="M196.6 208.6 V256.7 M193.0 208.6 h7.2 M193.0 256.7 h7.2"/>
</g>
<path d="M151.0 199.8 l3.15 5.5 h-6.3z" fill="#00dc00"/>
<path d="M196.6 224.4 l3.15 5.5 h-6.3z" fill="#00dc00"/>
<g stroke="#828256" stroke-width="0.95" fill="none">
<path d="M127.5 50.3 V203.2 M123.9 50.3 h7.2 M123.9 203.2 h7.2"/>
<path d="M165.5 125.9 V257.8 M161.9 125.9 h7.2 M161.9 257.8 h7.2"/>
<path d="M204.7 179.5 V274.8 M201.1 179.5 h7.2 M201.1 274.8 h7.2"/>
<path d="M249.9 239.5 V323.7 M246.3 239.5 h7.2 M246.3 323.7 h7.2"/>
<path d="M287.2 255.1 V392.7 M283.6 255.1 h7.2 M283.6 392.7 h7.2"/>
<path d="M326.8 270.3 V426.3 M323.2 270.3 h7.2 M323.2 426.3 h7.2"/>
<path d="M379.2 227.6 V327.0 M375.6 227.6 h7.2 M375.6 327.0 h7.2"/>
<path d="M440.5 173.5 V269.0 M436.9 173.5 h7.2 M436.9 269.0 h7.2"/>
<path d="M509.6 198.1 V502.4 M506.0 198.1 h7.2 M506.0 502.4 h7.2"/>
</g>
<path d="M127.5 116.6 l3.2 -5.6 h-6.4z" fill="#3a3a00"/>
<path d="M165.5 187.2 l3.2 -5.6 h-6.4z" fill="#3a3a00"/>
<path d="M204.7 226.3 l3.2 -5.6 h-6.4z" fill="#3a3a00"/>
<path d="M249.9 283.7 l3.2 -5.6 h-6.4z" fill="#3a3a00"/>
<path d="M287.2 315.0 l3.2 -5.6 h-6.4z" fill="#3a3a00"/>
<path d="M326.8 350.4 l3.2 -5.6 h-6.4z" fill="#3a3a00"/>
<path d="M379.2 292.2 l3.2 -5.6 h-6.4z" fill="#3a3a00"/>
<path d="M440.5 227.0 l3.2 -5.6 h-6.4z" fill="#3a3a00"/>
<path d="M509.6 340.1 l3.2 -5.6 h-6.4z" fill="#3a3a00"/>
<g stroke="#ffa981" stroke-width="0.95" fill="none">
<path d="M328.2 283.5 V414.2 M324.6 283.5 h7.2 M324.6 414.2 h7.2"/>
<path d="M354.2 230.1 V350.5 M350.6 230.1 h7.2 M350.6 350.5 h7.2"/>
<path d="M382.6 171.9 V278.6 M379.0 171.9 h7.2 M379.0 278.6 h7.2"/>
<path d="M412.5 214.4 V347.4 M408.9 214.4 h7.2 M408.9 347.4 h7.2"/>
</g>
<rect x="324.9" y="331.6" width="6.6" height="6.6" fill="#ff8040"/>
<rect x="350.9" y="275.6" width="6.6" height="6.6" fill="#ff8040"/>
<rect x="379.3" y="212.7" width="6.6" height="6.6" fill="#ff8040"/>
<rect x="409.2" y="263.5" width="6.6" height="6.6" fill="#ff8040"/>
<g stroke="#df78df" stroke-width="0.95" fill="none">
<path d="M107.6 121.7 V164.1 M104.0 121.7 h7.2 M104.0 164.1 h7.2"/>
<path d="M140.5 153.7 V192.5 M136.9 153.7 h7.2 M136.9 192.5 h7.2"/>
<path d="M174.7 197.4 V240.1 M171.1 197.4 h7.2 M171.1 240.1 h7.2"/>
<path d="M207.7 217.1 V262.5 M204.1 217.1 h7.2 M204.1 262.5 h7.2"/>
<path d="M244.7 230.1 V284.9 M241.1 230.1 h7.2 M241.1 284.9 h7.2"/>
<path d="M295.5 243.3 V319.7 M291.9 243.3 h7.2 M291.9 319.7 h7.2"/>
<path d="M343.0 140.5 V241.3 M339.4 140.5 h7.2 M339.4 241.3 h7.2"/>
<path d="M381.4 188.5 V582.5 M377.8 188.5 h7.2"/>
</g>
<polygon points="107.60,138.15 110.88,140.53 109.63,144.39 105.57,144.39 104.32,140.53" fill="#cc33cc"/>
<polygon points="140.50,168.65 143.78,171.03 142.53,174.89 138.47,174.89 137.22,171.03" fill="#cc33cc"/>
<polygon points="174.70,213.85 177.98,216.23 176.73,220.09 172.67,220.09 171.42,216.23" fill="#cc33cc"/>
<polygon points="207.70,235.05 210.98,237.43 209.73,241.29 205.67,241.29 204.42,237.43" fill="#cc33cc"/>
<polygon points="244.70,251.85 247.98,254.23 246.73,258.09 242.67,258.09 241.42,254.23" fill="#cc33cc"/>
<polygon points="295.50,275.25 298.78,277.63 297.53,281.49 293.47,281.49 292.22,277.63" fill="#cc33cc"/>
<polygon points="343.00,184.75 346.28,187.13 345.03,190.99 340.97,190.99 339.72,187.13" fill="#cc33cc"/>
<polygon points="381.40,308.55 384.68,310.93 383.43,314.79 379.37,314.79 378.12,310.93" fill="#cc33cc"/>
<g stroke="#ff7878" stroke-width="0.95" fill="none">
<path d="M158.3 281.5 V288.2 M154.7 281.5 h7.2 M154.7 288.2 h7.2 M148.3 285.0 H168.4 M148.3 281.4 v7.2 M168.4 281.4 v7.2"/>
<path d="M179.6 296.7 V302.7 M176.0 296.7 h7.2 M176.0 302.7 h7.2 M168.4 299.7 H191.4 M168.4 296.1 v7.2 M191.4 296.1 v7.2"/>
<path d="M202.7 302.8 V308.8 M199.1 302.8 h7.2 M199.1 308.8 h7.2 M191.4 305.8 H213.9 M191.4 302.2 v7.2 M213.9 302.2 v7.2"/>
<path d="M225.3 311.1 V317.1 M221.7 311.1 h7.2 M221.7 317.1 h7.2 M213.9 314.1 H236.9 M213.9 310.5 v7.2 M236.9 310.5 v7.2"/>
<path d="M248.5 311.4 V317.4 M244.9 311.4 h7.2 M244.9 317.4 h7.2 M236.9 314.3 H260.4 M236.9 310.7 v7.2 M260.4 310.7 v7.2"/>
<path d="M271.1 324.1 V332.2 M267.5 324.1 h7.2 M267.5 332.2 h7.2 M260.4 328.2 H282.8 M260.4 324.6 v7.2 M282.8 324.6 v7.2"/>
<path d="M292.1 311.4 V319.7 M288.5 311.4 h7.2 M288.5 319.7 h7.2 M282.8 315.4 H304.7 M282.8 311.8 v7.2 M304.7 311.8 v7.2"/>
<path d="M317.4 328.2 V339.3 M313.8 328.2 h7.2 M313.8 339.3 h7.2 M304.7 334.2 H327.5 M304.7 330.6 v7.2 M327.5 330.6 v7.2"/>
<path d="M338.8 314.0 V327.0 M335.2 314.0 h7.2 M335.2 327.0 h7.2 M327.5 320.3 H349.7 M327.5 316.7 v7.2 M349.7 316.7 v7.2"/>
<path d="M362.0 308.0 V323.2 M358.4 308.0 h7.2 M358.4 323.2 h7.2 M349.7 315.8 H372.5 M349.7 312.2 v7.2 M372.5 312.2 v7.2"/>
<path d="M390.4 297.7 V312.9 M386.8 297.7 h7.2 M386.8 312.9 h7.2 M372.5 305.1 H405.4 M372.5 301.5 v7.2 M405.4 301.5 v7.2"/>
<path d="M422.6 294.2 V314.3 M419.0 294.2 h7.2 M419.0 314.3 h7.2 M405.4 304.2 H437.8 M405.4 300.6 v7.2 M437.8 300.6 v7.2"/>
<path d="M457.7 258.0 V281.4 M454.1 258.0 h7.2 M454.1 281.4 h7.2 M437.8 269.7 H475.0 M437.8 266.1 v7.2 M475.0 266.1 v7.2"/>
<path d="M500.3 237.2 V270.9 M496.7 237.2 h7.2 M496.7 270.9 h7.2 M475.0 253.6 H520.4 M475.0 250.0 v7.2 M520.4 250.0 v7.2"/>
<path d="M547.4 189.5 V253.6 M543.8 189.5 h7.2 M543.8 253.6 h7.2 M520.4 217.1 H569.3 M520.4 213.5 v7.2 M569.3 213.5 v7.2"/>
<path d="M595.7 134.9 V235.2 M592.1 134.9 h7.2 M592.1 235.2 h7.2 M568.7 179.5 H617.6 M568.7 175.9 v7.2 M617.6 175.9 v7.2"/>
</g>
<path d="M158.3 281.6 l3.1 3.4 l-3.1 3.4 l-3.1 -3.4z" fill="#ff3b3b"/>
<path d="M179.6 296.3 l3.1 3.4 l-3.1 3.4 l-3.1 -3.4z" fill="#ff3b3b"/>
<path d="M202.7 302.4 l3.1 3.4 l-3.1 3.4 l-3.1 -3.4z" fill="#ff3b3b"/>
<path d="M225.3 310.7 l3.1 3.4 l-3.1 3.4 l-3.1 -3.4z" fill="#ff3b3b"/>
<path d="M248.5 310.9 l3.1 3.4 l-3.1 3.4 l-3.1 -3.4z" fill="#ff3b3b"/>
<path d="M271.1 324.8 l3.1 3.4 l-3.1 3.4 l-3.1 -3.4z" fill="#ff3b3b"/>
<path d="M292.1 312.0 l3.1 3.4 l-3.1 3.4 l-3.1 -3.4z" fill="#ff3b3b"/>
<path d="M317.4 330.8 l3.1 3.4 l-3.1 3.4 l-3.1 -3.4z" fill="#ff3b3b"/>
<path d="M338.8 316.9 l3.1 3.4 l-3.1 3.4 l-3.1 -3.4z" fill="#ff3b3b"/>
<path d="M362.0 312.4 l3.1 3.4 l-3.1 3.4 l-3.1 -3.4z" fill="#ff3b3b"/>
<path d="M390.4 301.7 l3.1 3.4 l-3.1 3.4 l-3.1 -3.4z" fill="#ff3b3b"/>
<path d="M422.6 300.8 l3.1 3.4 l-3.1 3.4 l-3.1 -3.4z" fill="#ff3b3b"/>
<path d="M457.7 266.3 l3.1 3.4 l-3.1 3.4 l-3.1 -3.4z" fill="#ff3b3b"/>
<path d="M500.3 250.2 l3.1 3.4 l-3.1 3.4 l-3.1 -3.4z" fill="#ff3b3b"/>
<path d="M547.4 213.7 l3.1 3.4 l-3.1 3.4 l-3.1 -3.4z" fill="#ff3b3b"/>
<path d="M595.7 176.1 l3.1 3.4 l-3.1 3.4 l-3.1 -3.4z" fill="#ff3b3b"/>
</g>
<path d="M567.4 479.7 H616.5 M567.4 476.1 v7.2 M616.5 476.1 v7.2" stroke="#5555ff" stroke-width="1" fill="none"/>
<circle cx="592.0" cy="479.7" r="3.45" fill="#0000ff"/>
<path d="M567.4 497.0 H616.5 M567.4 493.4 v7.2 M616.5 493.4 v7.2" stroke="#44dd44" stroke-width="1" fill="none"/>
<path d="M592.0 493.6 l3.15 5.5 h-6.3z" fill="#00dc00"/>
<path d="M567.4 514.4 H616.5 M567.4 510.8 v7.2 M616.5 510.8 v7.2" stroke="#828256" stroke-width="1" fill="none"/>
<path d="M592.0 517.6 l3.2 -5.6 h-6.4z" fill="#3a3a00"/>
<path d="M567.4 531.7 H616.5 M567.4 528.1 v7.2 M616.5 528.1 v7.2" stroke="#ffa981" stroke-width="1" fill="none"/>
<rect x="588.7" y="528.4" width="6.6" height="6.6" fill="#ff8040"/>
<path d="M567.4 549.0 H616.5 M567.4 545.4 v7.2 M616.5 545.4 v7.2" stroke="#df78df" stroke-width="1" fill="none"/>
<polygon points="592.00,545.75 595.28,548.13 594.03,551.99 589.97,551.99 588.72,548.13" fill="#cc33cc"/>
<path d="M567.4 566.3 H616.5 M567.4 562.7 v7.2 M616.5 562.7 v7.2" stroke="#ff7878" stroke-width="1" fill="none"/>
<path d="M592.0 562.9 l3.1 3.4 l-3.1 3.4 l-3.1 -3.4z" fill="#ff3b3b"/>
<path d="M317.6 531.4 H367.4" stroke="#ff0000" stroke-width="1.6"/>
<rect x="317.6" y="544.5" width="49.8" height="9" fill="#ececec"/>
<rect x="317.6" y="562" width="49.8" height="9" fill="#c9c9fc"/>
<path d="M91.34 582.50 v-4.0 M91.34 20.90 v4.0 M103.10 582.50 v-8.0 M103.10 20.90 v8.0 M180.43 582.50 v-4.0 M180.43 20.90 v4.0 M225.67 582.50 v-4.0 M225.67 20.90 v4.0 M257.77 582.50 v-4.0 M257.77 20.90 v4.0 M282.67 582.50 v-4.0 M282.67 20.90 v4.0 M303.01 582.50 v-4.0 M303.01 20.90 v4.0 M320.21 582.50 v-4.0 M320.21 20.90 v4.0 M335.10 582.50 v-4.0 M335.10 20.90 v4.0 M348.24 582.50 v-4.0 M348.24 20.90 v4.0 M360.00 582.50 v-8.0 M360.00 20.90 v8.0 M437.33 582.50 v-4.0 M437.33 20.90 v4.0 M482.57 582.50 v-4.0 M482.57 20.90 v4.0 M514.67 582.50 v-4.0 M514.67 20.90 v4.0 M539.57 582.50 v-4.0 M539.57 20.90 v4.0 M559.91 582.50 v-4.0 M559.91 20.90 v4.0 M577.11 582.50 v-4.0 M577.11 20.90 v4.0 M592.00 582.50 v-4.0 M592.00 20.90 v4.0 M605.14 582.50 v-4.0 M605.14 20.90 v4.0 M616.90 582.50 v-8.0 M616.90 20.90 v8.0 M78.50 567.00 h8.0 M637.50 567.00 h-8.0 M78.50 464.35 h4.0 M637.50 464.35 h-4.0 M78.50 404.30 h4.0 M637.50 404.30 h-4.0 M78.50 361.70 h4.0 M637.50 361.70 h-4.0 M78.50 328.65 h4.0 M637.50 328.65 h-4.0 M78.50 301.65 h4.0 M637.50 301.65 h-4.0 M78.50 278.82 h4.0 M637.50 278.82 h-4.0 M78.50 259.05 h4.0 M637.50 259.05 h-4.0 M78.50 241.60 h4.0 M637.50 241.60 h-4.0 M78.50 226.00 h8.0 M637.50 226.00 h-8.0 M78.50 123.35 h4.0 M637.50 123.35 h-4.0 M78.50 63.30 h4.0 M637.50 63.30 h-4.0 " stroke="#000" stroke-width="1.5" fill="none"/>
<rect x="78.5" y="20.9" width="559.0" height="561.6" fill="none" stroke="#000" stroke-width="1.6"/>
<g font-family="'Liberation Serif', serif" fill="#000" stroke="#000" stroke-width="0.2" opacity="0.999">
<text x="472.9" y="15.0" font-size="14.5" text-anchor="start" textLength="163.8" lengthAdjust="spacingAndGlyphs">Lineros’ PhD Thesis (2008)</text>
<text x="224.8" y="70.9" font-size="23.5" text-anchor="start" textLength="48.2" lengthAdjust="spacingAndGlyphs">AMS</text>
<text x="415.3" y="69.4" font-size="18.0" text-anchor="start" textLength="203.3" lengthAdjust="spacingAndGlyphs">Solar Modulation: 600 MV</text>
<text x="33.8" y="232.2" font-size="17.8" text-anchor="start" textLength="33.0" lengthAdjust="spacingAndGlyphs">0.10</text>
<text x="33.8" y="572.7" font-size="17.8" text-anchor="start" textLength="32.8" lengthAdjust="spacingAndGlyphs">0.01</text>
<text x="90.5" y="607.3" font-size="18.0" text-anchor="start" textLength="17.8" lengthAdjust="spacingAndGlyphs">10</text>
<text x="109.0" y="599.0" font-size="14.5" text-anchor="start">0</text>
<text x="347.4" y="607.3" font-size="18.0" text-anchor="start" textLength="17.8" lengthAdjust="spacingAndGlyphs">10</text>
<text x="365.9" y="599.0" font-size="14.5" text-anchor="start">1</text>
<text x="604.3" y="607.3" font-size="18.0" text-anchor="start" textLength="17.8" lengthAdjust="spacingAndGlyphs">10</text>
<text x="622.8" y="599.0" font-size="14.5" text-anchor="start">2</text>
<text x="273.1" y="623.6" font-size="18.2" text-anchor="start" textLength="166.6" lengthAdjust="spacingAndGlyphs">Positron energy [GeV]</text>
<text x="478.3" y="485.2" font-size="17.2" text-anchor="start" textLength="78.5" lengthAdjust="spacingAndGlyphs">Heat 2000</text>
<text x="470.7" y="502.5" font-size="17.2" text-anchor="start" textLength="86.1" lengthAdjust="spacingAndGlyphs">AMS Run 1</text>
<text x="470.7" y="519.9" font-size="17.2" text-anchor="start" textLength="86.1" lengthAdjust="spacingAndGlyphs">AMS Run 2</text>
<text x="478.0" y="537.2" font-size="17.2" text-anchor="start" textLength="78.8" lengthAdjust="spacingAndGlyphs">MASS−91</text>
<text x="468.6" y="554.5" font-size="17.2" text-anchor="start" textLength="88.2" lengthAdjust="spacingAndGlyphs">CAPRICE94</text>
<text x="491.8" y="571.8" font-size="17.2" text-anchor="start" textLength="65.0" lengthAdjust="spacingAndGlyphs">PAMELA</text>
<text x="160.5" y="535.4" font-size="17.6" text-anchor="start" textLength="12.2" lengthAdjust="spacingAndGlyphs">Φ</text>
<text x="174.0" y="540.5" font-size="15.0" text-anchor="start" textLength="6.9" lengthAdjust="spacingAndGlyphs">e</text>
<text x="181.3" y="535.0" font-size="12.5" text-anchor="start" textLength="7.3" lengthAdjust="spacingAndGlyphs">+</text>
<text x="195.5" y="536.3" font-size="17.6" text-anchor="start" textLength="12.9" lengthAdjust="spacingAndGlyphs">+</text>
<text x="213.5" y="535.4" font-size="17.6" text-anchor="start" textLength="92.6" lengthAdjust="spacingAndGlyphs">AMS Best fit</text>
<text x="178.5" y="554.3" font-size="17.6" text-anchor="start" textLength="127.8" lengthAdjust="spacingAndGlyphs">Fit 1 σ unc. band</text>
<text x="136.7" y="571.6" font-size="17.6" text-anchor="start" textLength="169.6" lengthAdjust="spacingAndGlyphs">Propagation unc. band</text>
<g transform="translate(25.2 428) rotate(-90)">
<text x="0.0" y="0.0" font-size="17.8" text-anchor="start" textLength="126.0" lengthAdjust="spacingAndGlyphs">Positron fraction</text>
<text x="149.4" y="-0.4" font-size="21.5" text-anchor="start" textLength="12.6" lengthAdjust="spacingAndGlyphs">e</text>
<text x="189.3" y="-0.4" font-size="21.5" text-anchor="start" textLength="12.6" lengthAdjust="spacingAndGlyphs">e</text>
<text x="221.1" y="-0.4" font-size="21.5" text-anchor="start" textLength="12.6" lengthAdjust="spacingAndGlyphs">e</text>
<text x="159.9" y="-9.2" font-size="15.0" text-anchor="start">+</text>
<text x="199.4" y="-9.2" font-size="15.0" text-anchor="start">+</text>
<text x="231.6" y="-9.2" font-size="15.0" text-anchor="start">−</text>
<path d="M168.7 2.3 L178.4 -12.3" stroke="#000" stroke-width="1.35" fill="none"/>
<text x="183.7" y="-1.2" font-size="17.2" text-anchor="start" textLength="6.4" lengthAdjust="spacingAndGlyphs">(</text>
<text x="243.6" y="-1.2" font-size="17.2" text-anchor="start" textLength="6.4" lengthAdjust="spacingAndGlyphs">)</text>
<text x="207.6" y="1.9" font-size="22.8" text-anchor="start">+</text>
</g>
</g>
</svg>
</body></html>
